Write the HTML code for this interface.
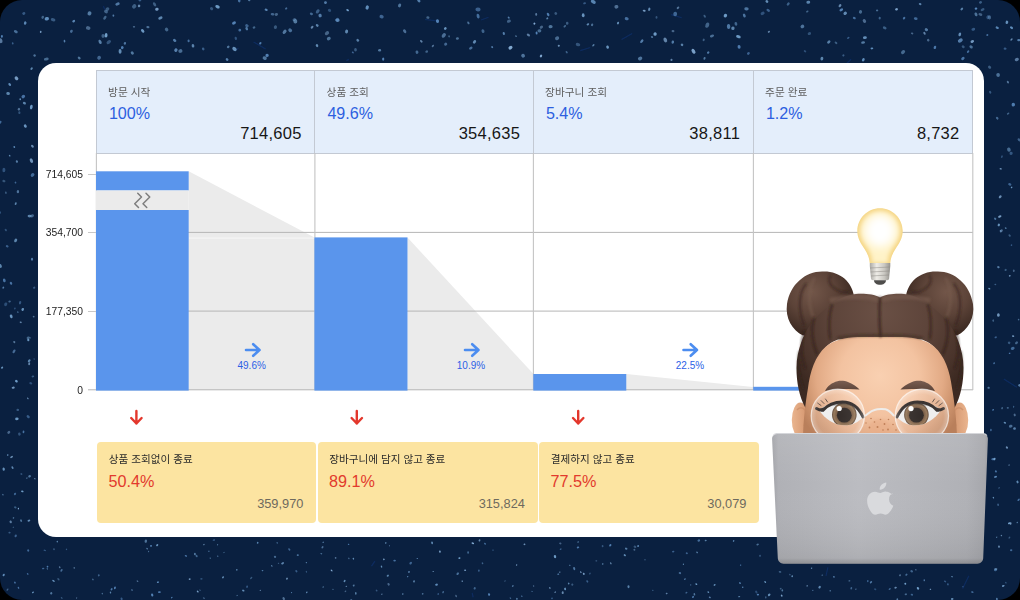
<!DOCTYPE html>
<html><head><meta charset="utf-8"><title>Funnel</title>
<style>
html,body{margin:0;padding:0;background:#000;}
body{width:1020px;height:600px;overflow:hidden;position:relative;font-family:"Liberation Sans",sans-serif;}
#bg{position:absolute;left:0;top:0;width:1020px;height:600px;background:#0a2040;border-radius:22px;overflow:hidden;}
#card{position:absolute;left:38.3px;top:63px;width:945.4px;height:473.6px;background:#fff;border-radius:18px;}
.hc{position:absolute;top:70px;height:84px;background:#e4eefb;border:1px solid #c3c9d3;border-right:none;box-sizing:border-box;}
.hc.last{border-right:1px solid #c3c9d3;}
.pct{position:absolute;left:12px;top:31.5px;font-size:16.1px;color:#2d5fe0;line-height:20px;}
.num{position:absolute;right:12.8px;top:52px;font-size:16.5px;color:#161616;line-height:20px;letter-spacing:0.25px;}
.yl{position:absolute;right:937px;width:60px;text-align:right;font-size:10.3px;line-height:12px;margin-top:0.8px;color:#1c1c1c;}
.yb{position:absolute;top:442px;height:81px;background:#fce4a1;border-radius:4px;}
.rp{position:absolute;left:11.6px;top:28.8px;font-size:16.2px;line-height:20px;color:#e23a2d;}
.gn{position:absolute;right:12.6px;top:54px;font-size:12.8px;line-height:16px;color:#6e6a5e;}
.cv{position:absolute;font-size:10px;line-height:12px;color:#2c5fe6;width:60px;text-align:center;}
svg{position:absolute;left:0;top:0;}
#kotext text{font-family:"Liberation Sans","Noto Sans CJK KR",sans-serif;}
</style></head><body>
<div id="bg">
<svg width="1020" height="600" viewBox="0 0 1020 600"><defs><filter id="fStar" x="-5%" y="-5%" width="110%" height="110%"><feGaussianBlur stdDeviation="0.45"/></filter></defs><g stroke="#12357a" stroke-width="1.2" opacity="0.55" filter="url(#fStar)"><line x1="632.2" y1="33.6" x2="621.6" y2="39.6"/><line x1="238.4" y1="47.9" x2="236.5" y2="49.9"/><line x1="437.0" y1="20.8" x2="425.0" y2="19.5"/><line x1="851.0" y1="59.3" x2="844.4" y2="65.7"/><line x1="826.0" y1="575.9" x2="827.9" y2="567.4"/><line x1="374.9" y1="561.1" x2="371.5" y2="566.1"/><line x1="997.8" y1="27.5" x2="998.8" y2="27.9"/><line x1="103.4" y1="6.0" x2="104.7" y2="9.5"/><line x1="1003.8" y1="378.9" x2="1016.8" y2="387.2"/><line x1="481.1" y1="20.0" x2="488.5" y2="17.3"/><line x1="472.2" y1="592.9" x2="473.1" y2="597.3"/><line x1="671.2" y1="14.6" x2="681.7" y2="17.8"/><line x1="580.3" y1="50.6" x2="590.3" y2="47.5"/><line x1="968.9" y1="575.7" x2="962.7" y2="588.5"/><line x1="253.6" y1="42.1" x2="265.6" y2="49.1"/><line x1="348.9" y1="59.4" x2="346.4" y2="60.6"/></g><g filter="url(#fStar)"><ellipse cx="707.3" cy="25.1" rx="2.76" ry="1.89" fill="#7fb0dc" fill-opacity="0.48" transform="rotate(111 707.3 25.1)"/><ellipse cx="848.3" cy="37.9" rx="1.35" ry="0.93" fill="#5d8ec4" fill-opacity="0.56" transform="rotate(140 848.3 37.9)"/><ellipse cx="283.7" cy="598.6" rx="1.54" ry="1.10" fill="#94bde6" fill-opacity="0.51" transform="rotate(57 283.7 598.6)"/><ellipse cx="30.3" cy="337.9" rx="0.89" ry="0.70" fill="#7fb0dc" fill-opacity="0.41" transform="rotate(12 30.3 337.9)"/><ellipse cx="217.8" cy="556.2" rx="0.72" ry="0.59" fill="#76a4d0" fill-opacity="0.68" transform="rotate(76 217.8 556.2)"/><ellipse cx="103.1" cy="35.9" rx="1.97" ry="1.65" fill="#76a4d0" fill-opacity="0.50" transform="rotate(81 103.1 35.9)"/><ellipse cx="402.8" cy="594.0" rx="0.75" ry="0.57" fill="#7fb0dc" fill-opacity="0.90" transform="rotate(107 402.8 594.0)"/><ellipse cx="102.3" cy="593.6" rx="0.77" ry="0.67" fill="#7fb0dc" fill-opacity="0.55" transform="rotate(59 102.3 593.6)"/><ellipse cx="649.3" cy="9.3" rx="1.73" ry="1.11" fill="#76a4d0" fill-opacity="0.82" transform="rotate(106 649.3 9.3)"/><ellipse cx="157.2" cy="545.1" rx="1.25" ry="0.92" fill="#76a4d0" fill-opacity="0.87" transform="rotate(133 157.2 545.1)"/><ellipse cx="492.2" cy="47.1" rx="1.07" ry="0.91" fill="#6a9aca" fill-opacity="0.77" transform="rotate(46 492.2 47.1)"/><ellipse cx="16.9" cy="161.5" rx="1.36" ry="1.06" fill="#76a4d0" fill-opacity="0.69" transform="rotate(66 16.9 161.5)"/><ellipse cx="34.2" cy="359.0" rx="0.83" ry="0.67" fill="#6a9aca" fill-opacity="0.44" transform="rotate(25 34.2 359.0)"/><ellipse cx="698.8" cy="540.5" rx="1.37" ry="1.13" fill="#5d8ec4" fill-opacity="0.69" transform="rotate(155 698.8 540.5)"/><ellipse cx="12.7" cy="43.3" rx="1.13" ry="0.88" fill="#5d8ec4" fill-opacity="0.57" transform="rotate(75 12.7 43.3)"/><ellipse cx="89.5" cy="13.4" rx="2.14" ry="1.94" fill="#7fb0dc" fill-opacity="0.64" transform="rotate(119 89.5 13.4)"/><ellipse cx="224.0" cy="552.5" rx="0.78" ry="0.62" fill="#7fb0dc" fill-opacity="0.42" transform="rotate(161 224.0 552.5)"/><ellipse cx="855.9" cy="589.2" rx="0.88" ry="0.65" fill="#94bde6" fill-opacity="0.42" transform="rotate(157 855.9 589.2)"/><ellipse cx="807.3" cy="11.5" rx="1.34" ry="0.88" fill="#76a4d0" fill-opacity="0.52" transform="rotate(149 807.3 11.5)"/><ellipse cx="812.8" cy="590.4" rx="0.67" ry="0.57" fill="#7fb0dc" fill-opacity="0.58" transform="rotate(115 812.8 590.4)"/><ellipse cx="11.0" cy="283.3" rx="1.52" ry="1.17" fill="#5d8ec4" fill-opacity="0.75" transform="rotate(62 11.0 283.3)"/><ellipse cx="510.4" cy="598.1" rx="0.87" ry="0.62" fill="#6a9aca" fill-opacity="0.61" transform="rotate(40 510.4 598.1)"/><ellipse cx="638.1" cy="546.0" rx="1.03" ry="0.83" fill="#6a9aca" fill-opacity="0.87" transform="rotate(143 638.1 546.0)"/><ellipse cx="333.0" cy="589.4" rx="0.83" ry="0.61" fill="#76a4d0" fill-opacity="0.46" transform="rotate(166 333.0 589.4)"/><ellipse cx="918.0" cy="588.3" rx="1.42" ry="1.13" fill="#7fb0dc" fill-opacity="0.85" transform="rotate(58 918.0 588.3)"/><ellipse cx="355.5" cy="49.7" rx="1.73" ry="1.37" fill="#7fb0dc" fill-opacity="0.41" transform="rotate(88 355.5 49.7)"/><ellipse cx="437.5" cy="21.1" rx="1.96" ry="1.55" fill="#5d8ec4" fill-opacity="0.90" transform="rotate(85 437.5 21.1)"/><ellipse cx="968.1" cy="51.6" rx="1.44" ry="1.00" fill="#5d8ec4" fill-opacity="0.72" transform="rotate(131 968.1 51.6)"/><ellipse cx="524.5" cy="544.3" rx="0.97" ry="0.77" fill="#94bde6" fill-opacity="0.70" transform="rotate(157 524.5 544.3)"/><ellipse cx="867.8" cy="581.1" rx="1.10" ry="0.73" fill="#5d8ec4" fill-opacity="0.65" transform="rotate(96 867.8 581.1)"/><ellipse cx="44.8" cy="550.4" rx="1.30" ry="0.75" fill="#5d8ec4" fill-opacity="0.48" transform="rotate(17 44.8 550.4)"/><ellipse cx="468.1" cy="552.5" rx="1.29" ry="0.92" fill="#6a9aca" fill-opacity="0.57" transform="rotate(89 468.1 552.5)"/><ellipse cx="427.9" cy="17.6" rx="1.61" ry="1.28" fill="#7fb0dc" fill-opacity="0.48" transform="rotate(6 427.9 17.6)"/><ellipse cx="321.3" cy="553.7" rx="1.01" ry="0.73" fill="#7fb0dc" fill-opacity="0.52" transform="rotate(24 321.3 553.7)"/><ellipse cx="264.7" cy="58.2" rx="2.13" ry="1.76" fill="#7fb0dc" fill-opacity="0.60" transform="rotate(23 264.7 58.2)"/><ellipse cx="1018.6" cy="499.8" rx="1.41" ry="0.91" fill="#5d8ec4" fill-opacity="0.71" transform="rotate(137 1018.6 499.8)"/><ellipse cx="79.2" cy="58.0" rx="1.60" ry="1.17" fill="#7fb0dc" fill-opacity="0.59" transform="rotate(38 79.2 58.0)"/><ellipse cx="15.7" cy="535.9" rx="1.44" ry="1.11" fill="#5d8ec4" fill-opacity="0.60" transform="rotate(113 15.7 535.9)"/><ellipse cx="905.8" cy="594.3" rx="1.16" ry="0.93" fill="#76a4d0" fill-opacity="0.55" transform="rotate(173 905.8 594.3)"/><ellipse cx="1019.9" cy="385.4" rx="1.63" ry="1.28" fill="#76a4d0" fill-opacity="0.71" transform="rotate(4 1019.9 385.4)"/><ellipse cx="383.2" cy="59.1" rx="1.63" ry="1.10" fill="#5d8ec4" fill-opacity="0.88" transform="rotate(91 383.2 59.1)"/><ellipse cx="863.3" cy="59.8" rx="1.77" ry="1.28" fill="#6a9aca" fill-opacity="0.88" transform="rotate(120 863.3 59.8)"/><ellipse cx="59.7" cy="567.2" rx="1.03" ry="0.78" fill="#94bde6" fill-opacity="0.54" transform="rotate(66 59.7 567.2)"/><ellipse cx="14.3" cy="147.0" rx="1.00" ry="0.89" fill="#6a9aca" fill-opacity="0.85" transform="rotate(70 14.3 147.0)"/><ellipse cx="51.2" cy="593.3" rx="1.19" ry="1.14" fill="#76a4d0" fill-opacity="0.64" transform="rotate(77 51.2 593.3)"/><ellipse cx="46.3" cy="59.1" rx="2.42" ry="1.44" fill="#7fb0dc" fill-opacity="0.52" transform="rotate(173 46.3 59.1)"/><ellipse cx="9.7" cy="155.7" rx="0.94" ry="0.75" fill="#76a4d0" fill-opacity="0.78" transform="rotate(50 9.7 155.7)"/><ellipse cx="666.7" cy="593.5" rx="0.93" ry="0.73" fill="#94bde6" fill-opacity="0.61" transform="rotate(166 666.7 593.5)"/><ellipse cx="840.0" cy="5.6" rx="1.79" ry="1.22" fill="#94bde6" fill-opacity="0.65" transform="rotate(125 840.0 5.6)"/><ellipse cx="22.7" cy="309.4" rx="1.50" ry="1.24" fill="#7fb0dc" fill-opacity="0.80" transform="rotate(117 22.7 309.4)"/><ellipse cx="320.1" cy="15.6" rx="1.78" ry="1.64" fill="#6a9aca" fill-opacity="0.76" transform="rotate(76 320.1 15.6)"/><ellipse cx="344.6" cy="581.0" rx="1.18" ry="0.89" fill="#7fb0dc" fill-opacity="0.75" transform="rotate(130 344.6 581.0)"/><ellipse cx="906.4" cy="574.7" rx="1.18" ry="0.93" fill="#6a9aca" fill-opacity="0.61" transform="rotate(144 906.4 574.7)"/><ellipse cx="768.2" cy="10.3" rx="1.97" ry="1.28" fill="#5d8ec4" fill-opacity="0.58" transform="rotate(36 768.2 10.3)"/><ellipse cx="558.3" cy="574.2" rx="0.97" ry="0.68" fill="#6a9aca" fill-opacity="0.80" transform="rotate(171 558.3 574.2)"/><ellipse cx="995.5" cy="476.8" rx="1.55" ry="0.93" fill="#6a9aca" fill-opacity="0.85" transform="rotate(166 995.5 476.8)"/><ellipse cx="19.4" cy="112.7" rx="1.40" ry="1.07" fill="#6a9aca" fill-opacity="0.42" transform="rotate(79 19.4 112.7)"/><ellipse cx="317.0" cy="45.6" rx="1.53" ry="1.22" fill="#7fb0dc" fill-opacity="0.74" transform="rotate(65 317.0 45.6)"/><ellipse cx="733.6" cy="540.9" rx="0.87" ry="0.70" fill="#6a9aca" fill-opacity="0.88" transform="rotate(135 733.6 540.9)"/><ellipse cx="566.7" cy="52.2" rx="1.34" ry="0.92" fill="#6a9aca" fill-opacity="0.54" transform="rotate(56 566.7 52.2)"/><ellipse cx="843.4" cy="55.4" rx="1.17" ry="1.04" fill="#6a9aca" fill-opacity="0.49" transform="rotate(127 843.4 55.4)"/><ellipse cx="33.0" cy="592.4" rx="1.07" ry="0.71" fill="#76a4d0" fill-opacity="0.86" transform="rotate(148 33.0 592.4)"/><ellipse cx="15.7" cy="240.4" rx="1.98" ry="1.40" fill="#7fb0dc" fill-opacity="0.70" transform="rotate(119 15.7 240.4)"/><ellipse cx="952.2" cy="599.0" rx="1.34" ry="0.90" fill="#7fb0dc" fill-opacity="0.73" transform="rotate(5 952.2 599.0)"/><ellipse cx="557.1" cy="38.2" rx="2.09" ry="1.85" fill="#76a4d0" fill-opacity="0.57" transform="rotate(161 557.1 38.2)"/><ellipse cx="558.8" cy="45.8" rx="1.08" ry="1.02" fill="#94bde6" fill-opacity="0.73" transform="rotate(169 558.8 45.8)"/><ellipse cx="33.7" cy="316.7" rx="1.01" ry="0.74" fill="#94bde6" fill-opacity="0.52" transform="rotate(24 33.7 316.7)"/><ellipse cx="472.8" cy="543.3" rx="1.38" ry="0.83" fill="#94bde6" fill-opacity="0.87" transform="rotate(21 472.8 543.3)"/><ellipse cx="404.7" cy="31.2" rx="2.07" ry="1.41" fill="#76a4d0" fill-opacity="0.60" transform="rotate(55 404.7 31.2)"/><ellipse cx="897.3" cy="599.6" rx="1.33" ry="0.86" fill="#76a4d0" fill-opacity="0.68" transform="rotate(98 897.3 599.6)"/><ellipse cx="578.1" cy="542.0" rx="0.87" ry="0.53" fill="#7fb0dc" fill-opacity="0.88" transform="rotate(97 578.1 542.0)"/><ellipse cx="24.4" cy="103.2" rx="1.61" ry="1.23" fill="#76a4d0" fill-opacity="0.75" transform="rotate(25 24.4 103.2)"/><ellipse cx="46.8" cy="18.7" rx="2.20" ry="1.74" fill="#6a9aca" fill-opacity="0.89" transform="rotate(168 46.8 18.7)"/><ellipse cx="16.4" cy="381.2" rx="1.54" ry="1.14" fill="#7fb0dc" fill-opacity="0.87" transform="rotate(43 16.4 381.2)"/><ellipse cx="834.0" cy="576.8" rx="0.87" ry="0.74" fill="#6a9aca" fill-opacity="0.88" transform="rotate(60 834.0 576.8)"/><ellipse cx="996.7" cy="537.3" rx="0.80" ry="0.58" fill="#7fb0dc" fill-opacity="0.63" transform="rotate(120 996.7 537.3)"/><ellipse cx="541.4" cy="27.2" rx="1.81" ry="1.34" fill="#94bde6" fill-opacity="0.44" transform="rotate(145 541.4 27.2)"/><ellipse cx="1008.1" cy="113.7" rx="1.40" ry="0.85" fill="#7fb0dc" fill-opacity="0.48" transform="rotate(142 1008.1 113.7)"/><ellipse cx="634.4" cy="549.8" rx="0.99" ry="0.97" fill="#94bde6" fill-opacity="0.43" transform="rotate(11 634.4 549.8)"/><ellipse cx="32.6" cy="174.9" rx="2.06" ry="1.68" fill="#5d8ec4" fill-opacity="0.67" transform="rotate(134 32.6 174.9)"/><ellipse cx="508.9" cy="21.2" rx="2.07" ry="1.48" fill="#76a4d0" fill-opacity="0.49" transform="rotate(157 508.9 21.2)"/><ellipse cx="31.6" cy="68.6" rx="1.41" ry="1.03" fill="#7fb0dc" fill-opacity="0.71" transform="rotate(130 31.6 68.6)"/><ellipse cx="317.2" cy="25.4" rx="1.63" ry="1.18" fill="#7fb0dc" fill-opacity="0.69" transform="rotate(48 317.2 25.4)"/><ellipse cx="532.1" cy="591.4" rx="0.66" ry="0.51" fill="#6a9aca" fill-opacity="0.68" transform="rotate(16 532.1 591.4)"/><ellipse cx="432.9" cy="45.9" rx="1.38" ry="0.96" fill="#94bde6" fill-opacity="0.51" transform="rotate(132 432.9 45.9)"/><ellipse cx="426.7" cy="51.6" rx="1.36" ry="1.21" fill="#76a4d0" fill-opacity="0.51" transform="rotate(166 426.7 51.6)"/><ellipse cx="456.1" cy="596.0" rx="1.29" ry="0.80" fill="#94bde6" fill-opacity="0.44" transform="rotate(69 456.1 596.0)"/><ellipse cx="18.9" cy="109.2" rx="1.37" ry="1.18" fill="#94bde6" fill-opacity="0.53" transform="rotate(129 18.9 109.2)"/><ellipse cx="121.6" cy="598.8" rx="1.26" ry="1.05" fill="#5d8ec4" fill-opacity="0.53" transform="rotate(69 121.6 598.8)"/><ellipse cx="11.6" cy="457.0" rx="1.51" ry="0.94" fill="#94bde6" fill-opacity="0.68" transform="rotate(154 11.6 457.0)"/><ellipse cx="679.9" cy="573.1" rx="1.24" ry="1.04" fill="#6a9aca" fill-opacity="0.61" transform="rotate(16 679.9 573.1)"/><ellipse cx="757.6" cy="544.5" rx="1.34" ry="0.93" fill="#7fb0dc" fill-opacity="0.55" transform="rotate(154 757.6 544.5)"/><ellipse cx="73.7" cy="21.2" rx="1.53" ry="1.12" fill="#6a9aca" fill-opacity="0.84" transform="rotate(147 73.7 21.2)"/><ellipse cx="915.7" cy="18.6" rx="1.91" ry="1.37" fill="#5d8ec4" fill-opacity="0.67" transform="rotate(9 915.7 18.6)"/><ellipse cx="389.5" cy="545.8" rx="0.67" ry="0.56" fill="#7fb0dc" fill-opacity="0.58" transform="rotate(56 389.5 545.8)"/><ellipse cx="239.2" cy="0.6" rx="1.84" ry="1.31" fill="#5d8ec4" fill-opacity="0.73" transform="rotate(89 239.2 0.6)"/><ellipse cx="106.0" cy="11.6" rx="2.03" ry="1.61" fill="#76a4d0" fill-opacity="0.50" transform="rotate(28 106.0 11.6)"/><ellipse cx="64.5" cy="41.2" rx="1.37" ry="0.85" fill="#6a9aca" fill-opacity="0.79" transform="rotate(81 64.5 41.2)"/><ellipse cx="132.0" cy="590.0" rx="1.02" ry="0.92" fill="#76a4d0" fill-opacity="0.48" transform="rotate(48 132.0 590.0)"/><ellipse cx="14.0" cy="351.3" rx="2.05" ry="1.20" fill="#6a9aca" fill-opacity="0.61" transform="rotate(124 14.0 351.3)"/><ellipse cx="1017.3" cy="522.5" rx="0.85" ry="0.67" fill="#7fb0dc" fill-opacity="0.60" transform="rotate(144 1017.3 522.5)"/><ellipse cx="174.7" cy="40.4" rx="1.90" ry="1.33" fill="#6a9aca" fill-opacity="0.76" transform="rotate(40 174.7 40.4)"/><ellipse cx="780.7" cy="588.6" rx="1.02" ry="0.73" fill="#76a4d0" fill-opacity="0.47" transform="rotate(144 780.7 588.6)"/><ellipse cx="154.6" cy="4.3" rx="2.29" ry="1.39" fill="#76a4d0" fill-opacity="0.47" transform="rotate(61 154.6 4.3)"/><ellipse cx="1011.5" cy="245.1" rx="0.97" ry="0.77" fill="#5d8ec4" fill-opacity="0.51" transform="rotate(100 1011.5 245.1)"/><ellipse cx="282.6" cy="563.3" rx="1.56" ry="1.00" fill="#76a4d0" fill-opacity="0.76" transform="rotate(150 282.6 563.3)"/><ellipse cx="276.4" cy="14.4" rx="1.65" ry="1.40" fill="#94bde6" fill-opacity="0.43" transform="rotate(160 276.4 14.4)"/><ellipse cx="11.2" cy="316.4" rx="1.88" ry="1.37" fill="#7fb0dc" fill-opacity="0.80" transform="rotate(72 11.2 316.4)"/><ellipse cx="9.7" cy="84.5" rx="1.62" ry="1.13" fill="#6a9aca" fill-opacity="0.90" transform="rotate(50 9.7 84.5)"/><ellipse cx="9.6" cy="301.5" rx="1.27" ry="1.01" fill="#76a4d0" fill-opacity="0.50" transform="rotate(171 9.6 301.5)"/><ellipse cx="110.5" cy="592.5" rx="1.13" ry="0.68" fill="#76a4d0" fill-opacity="0.75" transform="rotate(73 110.5 592.5)"/><ellipse cx="828.8" cy="42.0" rx="1.86" ry="1.36" fill="#7fb0dc" fill-opacity="0.66" transform="rotate(140 828.8 42.0)"/><ellipse cx="32.9" cy="376.4" rx="1.32" ry="0.98" fill="#6a9aca" fill-opacity="0.48" transform="rotate(168 32.9 376.4)"/><ellipse cx="53.5" cy="580.9" rx="1.39" ry="0.83" fill="#76a4d0" fill-opacity="0.86" transform="rotate(34 53.5 580.9)"/><ellipse cx="521.8" cy="596.2" rx="0.80" ry="0.57" fill="#6a9aca" fill-opacity="0.80" transform="rotate(45 521.8 596.2)"/><ellipse cx="211.6" cy="8.6" rx="1.74" ry="1.47" fill="#6a9aca" fill-opacity="0.45" transform="rotate(43 211.6 8.6)"/><ellipse cx="560.3" cy="543.4" rx="1.20" ry="0.96" fill="#94bde6" fill-opacity="0.42" transform="rotate(18 560.3 543.4)"/><ellipse cx="626.7" cy="18.7" rx="2.03" ry="1.53" fill="#5d8ec4" fill-opacity="0.72" transform="rotate(16 626.7 18.7)"/><ellipse cx="15.7" cy="203.7" rx="1.42" ry="0.95" fill="#76a4d0" fill-opacity="0.75" transform="rotate(109 15.7 203.7)"/><ellipse cx="592.1" cy="24.8" rx="1.42" ry="1.09" fill="#7fb0dc" fill-opacity="0.55" transform="rotate(112 592.1 24.8)"/><ellipse cx="1014.7" cy="415.0" rx="1.43" ry="1.05" fill="#94bde6" fill-opacity="0.47" transform="rotate(73 1014.7 415.0)"/><ellipse cx="516.6" cy="565.0" rx="1.02" ry="0.66" fill="#94bde6" fill-opacity="0.54" transform="rotate(104 516.6 565.0)"/><ellipse cx="971.1" cy="46.9" rx="1.81" ry="1.46" fill="#76a4d0" fill-opacity="0.61" transform="rotate(36 971.1 46.9)"/><ellipse cx="457.4" cy="38.5" rx="1.58" ry="1.24" fill="#7fb0dc" fill-opacity="0.55" transform="rotate(172 457.4 38.5)"/><ellipse cx="915.9" cy="569.8" rx="0.74" ry="0.53" fill="#94bde6" fill-opacity="0.63" transform="rotate(65 915.9 569.8)"/><ellipse cx="21.4" cy="474.0" rx="1.06" ry="0.86" fill="#6a9aca" fill-opacity="0.43" transform="rotate(20 21.4 474.0)"/><ellipse cx="3.7" cy="575.0" rx="1.32" ry="1.01" fill="#6a9aca" fill-opacity="0.88" transform="rotate(119 3.7 575.0)"/><ellipse cx="478.0" cy="9.5" rx="2.60" ry="1.91" fill="#5d8ec4" fill-opacity="0.58" transform="rotate(4 478.0 9.5)"/><ellipse cx="572.3" cy="584.6" rx="1.11" ry="1.07" fill="#76a4d0" fill-opacity="0.43" transform="rotate(102 572.3 584.6)"/><ellipse cx="132.3" cy="53.0" rx="1.68" ry="1.44" fill="#7fb0dc" fill-opacity="0.61" transform="rotate(44 132.3 53.0)"/><ellipse cx="1009.6" cy="353.3" rx="0.93" ry="0.70" fill="#5d8ec4" fill-opacity="0.80" transform="rotate(162 1009.6 353.3)"/><ellipse cx="157.9" cy="582.2" rx="1.05" ry="0.83" fill="#6a9aca" fill-opacity="0.88" transform="rotate(155 157.9 582.2)"/><ellipse cx="1013.1" cy="336.1" rx="1.19" ry="0.87" fill="#94bde6" fill-opacity="0.71" transform="rotate(17 1013.1 336.1)"/><ellipse cx="227.1" cy="59.5" rx="1.52" ry="1.19" fill="#6a9aca" fill-opacity="0.77" transform="rotate(41 227.1 59.5)"/><ellipse cx="251.2" cy="578.0" rx="1.33" ry="0.82" fill="#76a4d0" fill-opacity="0.43" transform="rotate(137 251.2 578.0)"/><ellipse cx="768.9" cy="31.8" rx="1.19" ry="0.90" fill="#94bde6" fill-opacity="0.61" transform="rotate(143 768.9 31.8)"/><ellipse cx="693.5" cy="51.3" rx="2.62" ry="1.69" fill="#94bde6" fill-opacity="0.81" transform="rotate(57 693.5 51.3)"/><ellipse cx="655.1" cy="34.0" rx="1.85" ry="1.65" fill="#7fb0dc" fill-opacity="0.86" transform="rotate(99 655.1 34.0)"/><ellipse cx="175.9" cy="50.1" rx="1.80" ry="1.61" fill="#6a9aca" fill-opacity="0.80" transform="rotate(122 175.9 50.1)"/><ellipse cx="32.0" cy="259.2" rx="1.44" ry="1.14" fill="#6a9aca" fill-opacity="0.74" transform="rotate(89 32.0 259.2)"/><ellipse cx="15.0" cy="493.9" rx="1.25" ry="1.05" fill="#5d8ec4" fill-opacity="0.63" transform="rotate(123 15.0 493.9)"/><ellipse cx="1000.2" cy="196.8" rx="1.66" ry="1.25" fill="#94bde6" fill-opacity="0.69" transform="rotate(131 1000.2 196.8)"/><ellipse cx="217.6" cy="544.8" rx="0.70" ry="0.56" fill="#7fb0dc" fill-opacity="0.59" transform="rotate(96 217.6 544.8)"/><ellipse cx="864.4" cy="21.0" rx="2.11" ry="1.57" fill="#94bde6" fill-opacity="0.48" transform="rotate(60 864.4 21.0)"/><ellipse cx="821.9" cy="58.6" rx="1.94" ry="1.44" fill="#7fb0dc" fill-opacity="0.70" transform="rotate(96 821.9 58.6)"/><ellipse cx="171.8" cy="597.6" rx="0.89" ry="0.62" fill="#5d8ec4" fill-opacity="0.80" transform="rotate(142 171.8 597.6)"/><ellipse cx="20.7" cy="322.3" rx="1.09" ry="0.81" fill="#94bde6" fill-opacity="0.64" transform="rotate(24 20.7 322.3)"/><ellipse cx="29.6" cy="476.2" rx="1.41" ry="1.14" fill="#76a4d0" fill-opacity="0.67" transform="rotate(148 29.6 476.2)"/><ellipse cx="673.2" cy="551.6" rx="1.22" ry="0.85" fill="#5d8ec4" fill-opacity="0.58" transform="rotate(169 673.2 551.6)"/><ellipse cx="236.8" cy="569.9" rx="0.88" ry="0.61" fill="#7fb0dc" fill-opacity="0.85" transform="rotate(13 236.8 569.9)"/><ellipse cx="952.1" cy="576.7" rx="0.80" ry="0.60" fill="#7fb0dc" fill-opacity="0.87" transform="rotate(25 952.1 576.7)"/><ellipse cx="145.8" cy="541.2" rx="1.69" ry="1.24" fill="#76a4d0" fill-opacity="0.62" transform="rotate(98 145.8 541.2)"/><ellipse cx="624.8" cy="555.2" rx="1.22" ry="0.93" fill="#7fb0dc" fill-opacity="0.75" transform="rotate(35 624.8 555.2)"/><ellipse cx="568.7" cy="583.5" rx="0.98" ry="0.77" fill="#76a4d0" fill-opacity="0.75" transform="rotate(60 568.7 583.5)"/><ellipse cx="995.5" cy="570.0" rx="1.54" ry="1.17" fill="#5d8ec4" fill-opacity="0.64" transform="rotate(4 995.5 570.0)"/><ellipse cx="1016.5" cy="342.8" rx="1.67" ry="1.19" fill="#7fb0dc" fill-opacity="0.48" transform="rotate(138 1016.5 342.8)"/><ellipse cx="306.8" cy="592.4" rx="0.88" ry="0.66" fill="#7fb0dc" fill-opacity="0.82" transform="rotate(109 306.8 592.4)"/><ellipse cx="0.7" cy="40.7" rx="2.47" ry="1.76" fill="#94bde6" fill-opacity="0.57" transform="rotate(73 0.7 40.7)"/><ellipse cx="246.7" cy="28.7" rx="1.75" ry="1.23" fill="#6a9aca" fill-opacity="0.73" transform="rotate(63 246.7 28.7)"/><ellipse cx="422.7" cy="593.9" rx="0.91" ry="0.79" fill="#76a4d0" fill-opacity="0.59" transform="rotate(178 422.7 593.9)"/><ellipse cx="237.2" cy="595.5" rx="0.92" ry="0.63" fill="#7fb0dc" fill-opacity="0.43" transform="rotate(170 237.2 595.5)"/><ellipse cx="53.1" cy="19.7" rx="2.35" ry="1.61" fill="#6a9aca" fill-opacity="0.48" transform="rotate(12 53.1 19.7)"/><ellipse cx="348.8" cy="558.4" rx="0.87" ry="0.68" fill="#76a4d0" fill-opacity="0.47" transform="rotate(35 348.8 558.4)"/><ellipse cx="278.5" cy="563.3" rx="0.69" ry="0.54" fill="#76a4d0" fill-opacity="0.55" transform="rotate(9 278.5 563.3)"/><ellipse cx="267.1" cy="55.3" rx="1.68" ry="1.64" fill="#5d8ec4" fill-opacity="0.87" transform="rotate(176 267.1 55.3)"/><ellipse cx="189.7" cy="579.1" rx="1.03" ry="0.86" fill="#94bde6" fill-opacity="0.70" transform="rotate(161 189.7 579.1)"/><ellipse cx="962.9" cy="586.7" rx="0.75" ry="0.51" fill="#76a4d0" fill-opacity="0.48" transform="rotate(9 962.9 586.7)"/><ellipse cx="980.4" cy="14.5" rx="1.97" ry="1.33" fill="#94bde6" fill-opacity="0.41" transform="rotate(11 980.4 14.5)"/><ellipse cx="15.5" cy="182.6" rx="1.01" ry="0.83" fill="#5d8ec4" fill-opacity="0.64" transform="rotate(66 15.5 182.6)"/><ellipse cx="3.3" cy="287.7" rx="1.14" ry="0.86" fill="#6a9aca" fill-opacity="0.74" transform="rotate(117 3.3 287.7)"/><ellipse cx="652.0" cy="37.0" rx="1.16" ry="1.01" fill="#7fb0dc" fill-opacity="0.54" transform="rotate(9 652.0 37.0)"/><ellipse cx="819.6" cy="587.2" rx="1.43" ry="1.10" fill="#76a4d0" fill-opacity="0.80" transform="rotate(128 819.6 587.2)"/><ellipse cx="728.6" cy="26.5" rx="2.50" ry="1.72" fill="#6a9aca" fill-opacity="0.72" transform="rotate(85 728.6 26.5)"/><ellipse cx="111.6" cy="589.3" rx="1.25" ry="0.89" fill="#5d8ec4" fill-opacity="0.78" transform="rotate(125 111.6 589.3)"/><ellipse cx="766.9" cy="1.5" rx="1.54" ry="1.29" fill="#7fb0dc" fill-opacity="0.76" transform="rotate(40 766.9 1.5)"/><ellipse cx="23.3" cy="96.6" rx="1.91" ry="1.61" fill="#5d8ec4" fill-opacity="0.75" transform="rotate(140 23.3 96.6)"/><ellipse cx="704.7" cy="16.2" rx="1.65" ry="1.01" fill="#7fb0dc" fill-opacity="0.43" transform="rotate(59 704.7 16.2)"/><ellipse cx="296.4" cy="571.2" rx="1.32" ry="0.93" fill="#5d8ec4" fill-opacity="0.54" transform="rotate(60 296.4 571.2)"/><ellipse cx="1011.5" cy="39.5" rx="1.36" ry="0.83" fill="#94bde6" fill-opacity="0.66" transform="rotate(136 1011.5 39.5)"/><ellipse cx="71.4" cy="31.3" rx="1.63" ry="1.36" fill="#6a9aca" fill-opacity="0.61" transform="rotate(115 71.4 31.3)"/><ellipse cx="934.9" cy="47.4" rx="1.68" ry="1.23" fill="#5d8ec4" fill-opacity="0.80" transform="rotate(113 934.9 47.4)"/><ellipse cx="552.0" cy="598.4" rx="0.96" ry="0.85" fill="#5d8ec4" fill-opacity="0.48" transform="rotate(10 552.0 598.4)"/><ellipse cx="596.3" cy="560.9" rx="0.99" ry="0.59" fill="#7fb0dc" fill-opacity="0.43" transform="rotate(10 596.3 560.9)"/><ellipse cx="257.7" cy="542.8" rx="0.98" ry="0.85" fill="#6a9aca" fill-opacity="0.83" transform="rotate(111 257.7 542.8)"/><ellipse cx="417.0" cy="52.2" rx="1.72" ry="1.41" fill="#6a9aca" fill-opacity="0.59" transform="rotate(72 417.0 52.2)"/><ellipse cx="756.3" cy="592.0" rx="1.48" ry="1.02" fill="#5d8ec4" fill-opacity="0.41" transform="rotate(60 756.3 592.0)"/><ellipse cx="34.6" cy="55.5" rx="1.35" ry="1.16" fill="#76a4d0" fill-opacity="0.62" transform="rotate(37 34.6 55.5)"/><ellipse cx="995.9" cy="471.4" rx="1.18" ry="0.89" fill="#5d8ec4" fill-opacity="0.76" transform="rotate(53 995.9 471.4)"/><ellipse cx="549.9" cy="588.0" rx="0.99" ry="0.60" fill="#94bde6" fill-opacity="0.78" transform="rotate(75 549.9 588.0)"/><ellipse cx="665.3" cy="40.0" rx="2.55" ry="1.70" fill="#94bde6" fill-opacity="0.64" transform="rotate(66 665.3 40.0)"/><ellipse cx="555.2" cy="592.2" rx="0.84" ry="0.55" fill="#94bde6" fill-opacity="0.88" transform="rotate(131 555.2 592.2)"/><ellipse cx="924.3" cy="580.3" rx="1.05" ry="0.77" fill="#6a9aca" fill-opacity="0.68" transform="rotate(83 924.3 580.3)"/><ellipse cx="580.8" cy="572.1" rx="1.03" ry="0.63" fill="#94bde6" fill-opacity="0.75" transform="rotate(54 580.8 572.1)"/><ellipse cx="548.1" cy="14.5" rx="1.74" ry="1.12" fill="#5d8ec4" fill-opacity="0.84" transform="rotate(56 548.1 14.5)"/><ellipse cx="120.1" cy="51.4" rx="2.30" ry="1.49" fill="#7fb0dc" fill-opacity="0.75" transform="rotate(88 120.1 51.4)"/><ellipse cx="28.2" cy="550.5" rx="1.24" ry="0.99" fill="#5d8ec4" fill-opacity="0.67" transform="rotate(65 28.2 550.5)"/><ellipse cx="732.9" cy="28.3" rx="1.79" ry="1.68" fill="#7fb0dc" fill-opacity="0.69" transform="rotate(98 732.9 28.3)"/><ellipse cx="564.8" cy="26.3" rx="1.44" ry="0.89" fill="#7fb0dc" fill-opacity="0.51" transform="rotate(140 564.8 26.3)"/><ellipse cx="266.2" cy="9.7" rx="1.63" ry="1.11" fill="#6a9aca" fill-opacity="0.82" transform="rotate(20 266.2 9.7)"/><ellipse cx="1017.5" cy="482.0" rx="1.39" ry="1.04" fill="#7fb0dc" fill-opacity="0.72" transform="rotate(70 1017.5 482.0)"/><ellipse cx="1011.2" cy="550.2" rx="1.19" ry="0.94" fill="#5d8ec4" fill-opacity="0.67" transform="rotate(175 1011.2 550.2)"/><ellipse cx="567.2" cy="23.3" rx="1.48" ry="1.30" fill="#76a4d0" fill-opacity="0.46" transform="rotate(96 567.2 23.3)"/><ellipse cx="1009.4" cy="537.6" rx="1.21" ry="0.77" fill="#76a4d0" fill-opacity="0.43" transform="rotate(128 1009.4 537.6)"/><ellipse cx="644.2" cy="10.7" rx="1.54" ry="1.01" fill="#94bde6" fill-opacity="0.78" transform="rotate(13 644.2 10.7)"/><ellipse cx="533.6" cy="585.9" rx="0.74" ry="0.66" fill="#94bde6" fill-opacity="0.48" transform="rotate(40 533.6 585.9)"/><ellipse cx="34.9" cy="478.7" rx="0.82" ry="0.58" fill="#94bde6" fill-opacity="0.64" transform="rotate(29 34.9 478.7)"/><ellipse cx="117.5" cy="4.0" rx="2.31" ry="1.46" fill="#6a9aca" fill-opacity="0.73" transform="rotate(158 117.5 4.0)"/><ellipse cx="505.0" cy="581.0" rx="0.81" ry="0.72" fill="#76a4d0" fill-opacity="0.43" transform="rotate(121 505.0 581.0)"/><ellipse cx="7.2" cy="246.2" rx="1.43" ry="1.11" fill="#5d8ec4" fill-opacity="0.58" transform="rotate(21 7.2 246.2)"/><ellipse cx="739.1" cy="46.9" rx="1.93" ry="1.52" fill="#5d8ec4" fill-opacity="0.82" transform="rotate(84 739.1 46.9)"/><ellipse cx="357.8" cy="40.3" rx="1.56" ry="1.25" fill="#76a4d0" fill-opacity="0.72" transform="rotate(43 357.8 40.3)"/><ellipse cx="88.2" cy="28.0" rx="2.32" ry="1.87" fill="#94bde6" fill-opacity="0.46" transform="rotate(7 88.2 28.0)"/><ellipse cx="445.7" cy="44.2" rx="1.58" ry="1.48" fill="#6a9aca" fill-opacity="0.60" transform="rotate(142 445.7 44.2)"/><ellipse cx="9.5" cy="532.6" rx="1.15" ry="0.90" fill="#6a9aca" fill-opacity="0.47" transform="rotate(169 9.5 532.6)"/><ellipse cx="1016.8" cy="59.5" rx="2.14" ry="1.59" fill="#94bde6" fill-opacity="0.57" transform="rotate(156 1016.8 59.5)"/><ellipse cx="114.9" cy="587.9" rx="1.36" ry="0.88" fill="#5d8ec4" fill-opacity="0.88" transform="rotate(109 114.9 587.9)"/><ellipse cx="879.7" cy="18.1" rx="1.42" ry="1.09" fill="#6a9aca" fill-opacity="0.53" transform="rotate(98 879.7 18.1)"/><ellipse cx="1.1" cy="0.6" rx="1.14" ry="0.84" fill="#7fb0dc" fill-opacity="0.72" transform="rotate(178 1.1 0.6)"/><ellipse cx="439.9" cy="551.6" rx="1.20" ry="0.98" fill="#94bde6" fill-opacity="0.74" transform="rotate(85 439.9 551.6)"/><ellipse cx="987.3" cy="35.0" rx="1.11" ry="0.95" fill="#5d8ec4" fill-opacity="0.74" transform="rotate(148 987.3 35.0)"/><ellipse cx="959.8" cy="34.4" rx="1.97" ry="1.31" fill="#76a4d0" fill-opacity="0.83" transform="rotate(106 959.8 34.4)"/><ellipse cx="690.7" cy="584.9" rx="0.97" ry="0.69" fill="#6a9aca" fill-opacity="0.41" transform="rotate(84 690.7 584.9)"/><ellipse cx="98.8" cy="575.3" rx="1.08" ry="0.95" fill="#6a9aca" fill-opacity="0.54" transform="rotate(76 98.8 575.3)"/><ellipse cx="871.9" cy="48.4" rx="1.38" ry="0.98" fill="#6a9aca" fill-opacity="0.88" transform="rotate(173 871.9 48.4)"/><ellipse cx="217.5" cy="6.8" rx="2.32" ry="1.56" fill="#7fb0dc" fill-opacity="0.85" transform="rotate(24 217.5 6.8)"/><ellipse cx="1000.7" cy="168.8" rx="1.17" ry="0.81" fill="#94bde6" fill-opacity="0.68" transform="rotate(14 1000.7 168.8)"/><ellipse cx="479.5" cy="540.4" rx="1.22" ry="0.87" fill="#94bde6" fill-opacity="0.64" transform="rotate(109 479.5 540.4)"/><ellipse cx="789.9" cy="574.6" rx="0.90" ry="0.74" fill="#6a9aca" fill-opacity="0.43" transform="rotate(33 789.9 574.6)"/><ellipse cx="994.1" cy="363.3" rx="1.06" ry="0.77" fill="#5d8ec4" fill-opacity="0.78" transform="rotate(110 994.1 363.3)"/><ellipse cx="999.0" cy="546.7" rx="1.18" ry="0.92" fill="#94bde6" fill-opacity="0.68" transform="rotate(84 999.0 546.7)"/><ellipse cx="30.8" cy="383.3" rx="1.53" ry="1.09" fill="#5d8ec4" fill-opacity="0.44" transform="rotate(22 30.8 383.3)"/><ellipse cx="385.8" cy="542.9" rx="0.85" ry="0.69" fill="#76a4d0" fill-opacity="0.78" transform="rotate(120 385.8 542.9)"/><ellipse cx="593.3" cy="1.8" rx="2.72" ry="1.78" fill="#6a9aca" fill-opacity="0.81" transform="rotate(29 593.3 1.8)"/><ellipse cx="147.9" cy="27.1" rx="1.60" ry="1.08" fill="#76a4d0" fill-opacity="0.61" transform="rotate(14 147.9 27.1)"/><ellipse cx="854.3" cy="18.1" rx="1.53" ry="1.12" fill="#5d8ec4" fill-opacity="0.70" transform="rotate(25 854.3 18.1)"/><ellipse cx="107.4" cy="9.1" rx="2.00" ry="1.73" fill="#76a4d0" fill-opacity="0.44" transform="rotate(142 107.4 9.1)"/><ellipse cx="335.6" cy="557.9" rx="0.87" ry="0.73" fill="#94bde6" fill-opacity="0.69" transform="rotate(14 335.6 557.9)"/><ellipse cx="836.0" cy="42.8" rx="1.57" ry="1.04" fill="#7fb0dc" fill-opacity="0.43" transform="rotate(41 836.0 42.8)"/><ellipse cx="297.8" cy="555.1" rx="1.08" ry="0.83" fill="#6a9aca" fill-opacity="0.69" transform="rotate(8 297.8 555.1)"/><ellipse cx="7.7" cy="455.0" rx="0.86" ry="0.76" fill="#7fb0dc" fill-opacity="0.77" transform="rotate(107 7.7 455.0)"/><ellipse cx="536.2" cy="14.4" rx="1.43" ry="1.00" fill="#94bde6" fill-opacity="0.57" transform="rotate(89 536.2 14.4)"/><ellipse cx="926.4" cy="29.7" rx="1.71" ry="1.49" fill="#76a4d0" fill-opacity="0.68" transform="rotate(30 926.4 29.7)"/><ellipse cx="792.2" cy="576.3" rx="0.99" ry="0.83" fill="#7fb0dc" fill-opacity="0.75" transform="rotate(106 792.2 576.3)"/><ellipse cx="34.2" cy="287.7" rx="1.14" ry="1.07" fill="#6a9aca" fill-opacity="0.46" transform="rotate(168 34.2 287.7)"/><ellipse cx="317.7" cy="11.4" rx="2.36" ry="1.60" fill="#6a9aca" fill-opacity="0.50" transform="rotate(127 317.7 11.4)"/><ellipse cx="1011.6" cy="187.4" rx="0.93" ry="0.72" fill="#7fb0dc" fill-opacity="0.82" transform="rotate(132 1011.6 187.4)"/><ellipse cx="671.5" cy="59.8" rx="1.13" ry="1.07" fill="#94bde6" fill-opacity="0.62" transform="rotate(99 671.5 59.8)"/><ellipse cx="990.9" cy="430.0" rx="1.33" ry="0.99" fill="#5d8ec4" fill-opacity="0.54" transform="rotate(92 990.9 430.0)"/><ellipse cx="262.5" cy="570.6" rx="0.89" ry="0.55" fill="#6a9aca" fill-opacity="0.75" transform="rotate(7 262.5 570.6)"/><ellipse cx="578.0" cy="44.6" rx="2.29" ry="1.70" fill="#6a9aca" fill-opacity="0.43" transform="rotate(8 578.0 44.6)"/><ellipse cx="443.8" cy="35.4" rx="2.60" ry="1.73" fill="#76a4d0" fill-opacity="0.60" transform="rotate(129 443.8 35.4)"/><ellipse cx="159.4" cy="592.2" rx="1.49" ry="0.90" fill="#5d8ec4" fill-opacity="0.81" transform="rotate(174 159.4 592.2)"/><ellipse cx="21.1" cy="520.6" rx="1.31" ry="0.94" fill="#7fb0dc" fill-opacity="0.57" transform="rotate(64 21.1 520.6)"/><ellipse cx="355.8" cy="593.4" rx="1.32" ry="0.84" fill="#7fb0dc" fill-opacity="0.64" transform="rotate(84 355.8 593.4)"/><ellipse cx="1009.8" cy="275.8" rx="1.00" ry="0.75" fill="#94bde6" fill-opacity="0.71" transform="rotate(155 1009.8 275.8)"/><ellipse cx="213.9" cy="540.1" rx="1.29" ry="0.92" fill="#5d8ec4" fill-opacity="0.43" transform="rotate(165 213.9 540.1)"/><ellipse cx="704.5" cy="58.4" rx="1.48" ry="1.01" fill="#7fb0dc" fill-opacity="0.61" transform="rotate(108 704.5 58.4)"/><ellipse cx="346.3" cy="586.4" rx="0.83" ry="0.57" fill="#94bde6" fill-opacity="0.55" transform="rotate(3 346.3 586.4)"/><ellipse cx="911.7" cy="571.2" rx="1.39" ry="1.09" fill="#6a9aca" fill-opacity="0.56" transform="rotate(24 911.7 571.2)"/><ellipse cx="1009.1" cy="465.1" rx="0.94" ry="0.71" fill="#94bde6" fill-opacity="0.47" transform="rotate(109 1009.1 465.1)"/><ellipse cx="1000.6" cy="230.9" rx="1.12" ry="0.74" fill="#5d8ec4" fill-opacity="0.55" transform="rotate(39 1000.6 230.9)"/><ellipse cx="995.7" cy="337.3" rx="1.19" ry="0.87" fill="#5d8ec4" fill-opacity="0.58" transform="rotate(162 995.7 337.3)"/><ellipse cx="593.4" cy="45.3" rx="1.45" ry="0.85" fill="#7fb0dc" fill-opacity="0.66" transform="rotate(129 593.4 45.3)"/><ellipse cx="4.3" cy="280.4" rx="1.88" ry="1.34" fill="#5d8ec4" fill-opacity="0.76" transform="rotate(75 4.3 280.4)"/><ellipse cx="208.9" cy="551.3" rx="0.69" ry="0.67" fill="#6a9aca" fill-opacity="0.64" transform="rotate(140 208.9 551.3)"/><ellipse cx="166.6" cy="29.5" rx="2.02" ry="1.64" fill="#76a4d0" fill-opacity="0.52" transform="rotate(53 166.6 29.5)"/><ellipse cx="18.4" cy="508.6" rx="0.90" ry="0.64" fill="#94bde6" fill-opacity="0.84" transform="rotate(99 18.4 508.6)"/><ellipse cx="104.9" cy="17.8" rx="2.18" ry="1.27" fill="#76a4d0" fill-opacity="0.52" transform="rotate(126 104.9 17.8)"/><ellipse cx="928.2" cy="40.2" rx="1.33" ry="1.27" fill="#94bde6" fill-opacity="0.44" transform="rotate(64 928.2 40.2)"/><ellipse cx="47.3" cy="568.8" rx="0.97" ry="0.60" fill="#76a4d0" fill-opacity="0.55" transform="rotate(65 47.3 568.8)"/><ellipse cx="808.3" cy="2.2" rx="1.94" ry="1.51" fill="#76a4d0" fill-opacity="0.75" transform="rotate(171 808.3 2.2)"/><ellipse cx="998.1" cy="74.9" rx="2.00" ry="1.85" fill="#7fb0dc" fill-opacity="0.57" transform="rotate(92 998.1 74.9)"/><ellipse cx="539.4" cy="30.9" rx="1.95" ry="1.56" fill="#7fb0dc" fill-opacity="0.52" transform="rotate(177 539.4 30.9)"/><ellipse cx="740.6" cy="565.1" rx="0.73" ry="0.57" fill="#5d8ec4" fill-opacity="0.80" transform="rotate(15 740.6 565.1)"/><ellipse cx="976.0" cy="8.6" rx="1.34" ry="1.08" fill="#5d8ec4" fill-opacity="0.90" transform="rotate(163 976.0 8.6)"/><ellipse cx="28.9" cy="520.6" rx="1.40" ry="0.95" fill="#76a4d0" fill-opacity="0.82" transform="rotate(164 28.9 520.6)"/><ellipse cx="562.7" cy="592.7" rx="1.35" ry="1.02" fill="#94bde6" fill-opacity="0.67" transform="rotate(100 562.7 592.7)"/><ellipse cx="470.8" cy="48.1" rx="1.84" ry="1.34" fill="#6a9aca" fill-opacity="0.63" transform="rotate(154 470.8 48.1)"/><ellipse cx="811.6" cy="568.2" rx="0.82" ry="0.64" fill="#76a4d0" fill-opacity="0.76" transform="rotate(122 811.6 568.2)"/><ellipse cx="122.3" cy="47.6" rx="1.51" ry="1.38" fill="#5d8ec4" fill-opacity="0.83" transform="rotate(110 122.3 47.6)"/><ellipse cx="555.8" cy="13.5" rx="1.44" ry="1.30" fill="#76a4d0" fill-opacity="0.43" transform="rotate(24 555.8 13.5)"/><ellipse cx="417.3" cy="558.5" rx="0.79" ry="0.55" fill="#6a9aca" fill-opacity="0.80" transform="rotate(5 417.3 558.5)"/><ellipse cx="156.9" cy="9.2" rx="1.79" ry="1.49" fill="#94bde6" fill-opacity="0.77" transform="rotate(164 156.9 9.2)"/><ellipse cx="26.9" cy="478.1" rx="0.86" ry="0.65" fill="#7fb0dc" fill-opacity="0.52" transform="rotate(105 26.9 478.1)"/><ellipse cx="851.3" cy="588.2" rx="1.27" ry="0.87" fill="#6a9aca" fill-opacity="0.56" transform="rotate(105 851.3 588.2)"/><ellipse cx="1009.6" cy="235.5" rx="1.30" ry="0.91" fill="#76a4d0" fill-opacity="0.46" transform="rotate(44 1009.6 235.5)"/><ellipse cx="805.0" cy="51.2" rx="1.34" ry="0.98" fill="#5d8ec4" fill-opacity="0.44" transform="rotate(35 805.0 51.2)"/><ellipse cx="781.7" cy="595.7" rx="1.13" ry="0.80" fill="#94bde6" fill-opacity="0.82" transform="rotate(65 781.7 595.7)"/><ellipse cx="989.3" cy="288.6" rx="1.12" ry="0.80" fill="#76a4d0" fill-opacity="0.84" transform="rotate(30 989.3 288.6)"/><ellipse cx="203.9" cy="544.6" rx="0.85" ry="0.66" fill="#94bde6" fill-opacity="0.58" transform="rotate(154 203.9 544.6)"/><ellipse cx="884.7" cy="27.9" rx="1.99" ry="1.40" fill="#6a9aca" fill-opacity="0.52" transform="rotate(29 884.7 27.9)"/><ellipse cx="443.1" cy="592.2" rx="1.19" ry="0.80" fill="#6a9aca" fill-opacity="0.59" transform="rotate(112 443.1 592.2)"/><ellipse cx="147.1" cy="548.6" rx="0.97" ry="0.71" fill="#7fb0dc" fill-opacity="0.58" transform="rotate(35 147.1 548.6)"/><ellipse cx="15.8" cy="31.6" rx="2.06" ry="1.42" fill="#6a9aca" fill-opacity="0.65" transform="rotate(32 15.8 31.6)"/><ellipse cx="20.2" cy="99.2" rx="0.98" ry="0.79" fill="#76a4d0" fill-opacity="0.88" transform="rotate(88 20.2 99.2)"/><ellipse cx="602.6" cy="546.2" rx="1.14" ry="0.89" fill="#6a9aca" fill-opacity="0.45" transform="rotate(86 602.6 546.2)"/><ellipse cx="765.8" cy="597.4" rx="1.05" ry="0.67" fill="#7fb0dc" fill-opacity="0.49" transform="rotate(92 765.8 597.4)"/><ellipse cx="757.9" cy="594.6" rx="1.15" ry="0.84" fill="#5d8ec4" fill-opacity="0.85" transform="rotate(5 757.9 594.6)"/><ellipse cx="693.0" cy="596.9" rx="1.11" ry="0.85" fill="#5d8ec4" fill-opacity="0.82" transform="rotate(126 693.0 596.9)"/><ellipse cx="788.2" cy="4.0" rx="1.82" ry="1.22" fill="#6a9aca" fill-opacity="0.53" transform="rotate(132 788.2 4.0)"/><ellipse cx="17.9" cy="191.6" rx="1.71" ry="1.21" fill="#7fb0dc" fill-opacity="0.58" transform="rotate(94 17.9 191.6)"/><ellipse cx="607.6" cy="47.1" rx="1.64" ry="1.33" fill="#7fb0dc" fill-opacity="0.82" transform="rotate(71 607.6 47.1)"/><ellipse cx="20.1" cy="302.7" rx="1.73" ry="1.12" fill="#5d8ec4" fill-opacity="0.49" transform="rotate(103 20.1 302.7)"/><ellipse cx="188.6" cy="40.8" rx="1.41" ry="1.07" fill="#5d8ec4" fill-opacity="0.72" transform="rotate(83 188.6 40.8)"/><ellipse cx="920.1" cy="4.1" rx="1.36" ry="1.02" fill="#7fb0dc" fill-opacity="0.69" transform="rotate(12 920.1 4.1)"/><ellipse cx="740.0" cy="583.1" rx="1.00" ry="0.79" fill="#6a9aca" fill-opacity="0.81" transform="rotate(56 740.0 583.1)"/><ellipse cx="76.6" cy="598.0" rx="0.77" ry="0.59" fill="#94bde6" fill-opacity="0.48" transform="rotate(118 76.6 598.0)"/><ellipse cx="782.3" cy="590.4" rx="1.17" ry="0.86" fill="#7fb0dc" fill-opacity="0.59" transform="rotate(86 782.3 590.4)"/><ellipse cx="47.5" cy="566.6" rx="0.96" ry="0.84" fill="#5d8ec4" fill-opacity="0.83" transform="rotate(113 47.5 566.6)"/><ellipse cx="246.9" cy="25.8" rx="1.83" ry="1.50" fill="#5d8ec4" fill-opacity="0.59" transform="rotate(34 246.9 25.8)"/><ellipse cx="694.4" cy="594.3" rx="1.29" ry="0.83" fill="#7fb0dc" fill-opacity="0.60" transform="rotate(78 694.4 594.3)"/><ellipse cx="436.5" cy="584.7" rx="1.42" ry="1.09" fill="#6a9aca" fill-opacity="0.87" transform="rotate(164 436.5 584.7)"/><ellipse cx="28.3" cy="340.0" rx="1.23" ry="1.09" fill="#7fb0dc" fill-opacity="0.80" transform="rotate(88 28.3 340.0)"/><ellipse cx="683.4" cy="564.3" rx="0.72" ry="0.60" fill="#7fb0dc" fill-opacity="0.75" transform="rotate(89 683.4 564.3)"/><ellipse cx="686.8" cy="553.2" rx="1.10" ry="0.85" fill="#5d8ec4" fill-opacity="0.62" transform="rotate(29 686.8 553.2)"/><ellipse cx="381.6" cy="16.6" rx="2.16" ry="1.82" fill="#5d8ec4" fill-opacity="0.62" transform="rotate(19 381.6 16.6)"/><ellipse cx="1018.6" cy="319.6" rx="0.94" ry="0.75" fill="#76a4d0" fill-opacity="0.56" transform="rotate(70 1018.6 319.6)"/><ellipse cx="1.9" cy="36.3" rx="1.38" ry="1.00" fill="#5d8ec4" fill-opacity="0.87" transform="rotate(98 1.9 36.3)"/><ellipse cx="640.1" cy="58.4" rx="2.23" ry="1.77" fill="#76a4d0" fill-opacity="0.64" transform="rotate(148 640.1 58.4)"/><ellipse cx="536.6" cy="33.0" rx="1.57" ry="0.99" fill="#5d8ec4" fill-opacity="0.90" transform="rotate(86 536.6 33.0)"/><ellipse cx="322.5" cy="547.3" rx="1.25" ry="0.90" fill="#76a4d0" fill-opacity="0.60" transform="rotate(128 322.5 547.3)"/><ellipse cx="323.2" cy="542.3" rx="0.70" ry="0.61" fill="#76a4d0" fill-opacity="0.86" transform="rotate(120 323.2 542.3)"/><ellipse cx="234.5" cy="49.0" rx="2.43" ry="1.73" fill="#7fb0dc" fill-opacity="0.78" transform="rotate(37 234.5 49.0)"/><ellipse cx="998.1" cy="504.8" rx="1.31" ry="0.93" fill="#6a9aca" fill-opacity="0.48" transform="rotate(79 998.1 504.8)"/><ellipse cx="871.0" cy="582.2" rx="1.39" ry="0.89" fill="#6a9aca" fill-opacity="0.72" transform="rotate(133 871.0 582.2)"/><ellipse cx="512.8" cy="586.0" rx="1.01" ry="0.79" fill="#76a4d0" fill-opacity="0.69" transform="rotate(142 512.8 586.0)"/><ellipse cx="29.2" cy="360.8" rx="1.67" ry="1.11" fill="#76a4d0" fill-opacity="0.78" transform="rotate(130 29.2 360.8)"/><ellipse cx="1010.7" cy="426.2" rx="1.85" ry="1.42" fill="#7fb0dc" fill-opacity="0.54" transform="rotate(165 1010.7 426.2)"/><ellipse cx="327.0" cy="33.2" rx="2.33" ry="1.77" fill="#94bde6" fill-opacity="0.43" transform="rotate(142 327.0 33.2)"/><ellipse cx="976.0" cy="14.4" rx="1.99" ry="1.39" fill="#76a4d0" fill-opacity="0.62" transform="rotate(65 976.0 14.4)"/><ellipse cx="29.2" cy="363.7" rx="1.47" ry="0.95" fill="#94bde6" fill-opacity="0.66" transform="rotate(101 29.2 363.7)"/><ellipse cx="489.1" cy="594.5" rx="1.26" ry="1.02" fill="#5d8ec4" fill-opacity="0.89" transform="rotate(67 489.1 594.5)"/><ellipse cx="325.5" cy="2.6" rx="1.47" ry="1.40" fill="#6a9aca" fill-opacity="0.74" transform="rotate(165 325.5 2.6)"/><ellipse cx="381.9" cy="594.2" rx="0.82" ry="0.60" fill="#94bde6" fill-opacity="0.62" transform="rotate(104 381.9 594.2)"/><ellipse cx="462.2" cy="581.1" rx="0.74" ry="0.58" fill="#94bde6" fill-opacity="0.86" transform="rotate(4 462.2 581.1)"/><ellipse cx="124.9" cy="43.4" rx="1.42" ry="1.18" fill="#6a9aca" fill-opacity="0.69" transform="rotate(107 124.9 43.4)"/><ellipse cx="973.3" cy="29.3" rx="1.90" ry="1.41" fill="#5d8ec4" fill-opacity="0.51" transform="rotate(166 973.3 29.3)"/><ellipse cx="569.8" cy="565.3" rx="0.71" ry="0.57" fill="#7fb0dc" fill-opacity="0.71" transform="rotate(15 569.8 565.3)"/><ellipse cx="14.9" cy="308.5" rx="0.89" ry="0.74" fill="#5d8ec4" fill-opacity="0.51" transform="rotate(97 14.9 308.5)"/><ellipse cx="407.7" cy="576.6" rx="0.75" ry="0.52" fill="#6a9aca" fill-opacity="0.87" transform="rotate(125 407.7 576.6)"/><ellipse cx="493.0" cy="550.1" rx="0.95" ry="0.69" fill="#5d8ec4" fill-opacity="0.50" transform="rotate(0 493.0 550.1)"/><ellipse cx="28.2" cy="416.7" rx="1.76" ry="1.32" fill="#5d8ec4" fill-opacity="0.55" transform="rotate(38 28.2 416.7)"/><ellipse cx="271.8" cy="565.9" rx="1.00" ry="0.69" fill="#76a4d0" fill-opacity="0.63" transform="rotate(51 271.8 565.9)"/><ellipse cx="5.8" cy="230.0" rx="1.31" ry="0.90" fill="#6a9aca" fill-opacity="0.41" transform="rotate(44 5.8 230.0)"/><ellipse cx="203.9" cy="598.1" rx="1.13" ry="0.71" fill="#76a4d0" fill-opacity="0.47" transform="rotate(20 203.9 598.1)"/><ellipse cx="610.3" cy="545.3" rx="1.36" ry="1.02" fill="#5d8ec4" fill-opacity="0.86" transform="rotate(124 610.3 545.3)"/><ellipse cx="353.4" cy="558.7" rx="0.95" ry="0.76" fill="#76a4d0" fill-opacity="0.81" transform="rotate(80 353.4 558.7)"/><ellipse cx="1009.1" cy="523.2" rx="1.19" ry="0.85" fill="#7fb0dc" fill-opacity="0.90" transform="rotate(145 1009.1 523.2)"/><ellipse cx="1006.9" cy="22.3" rx="1.71" ry="1.33" fill="#76a4d0" fill-opacity="0.85" transform="rotate(107 1006.9 22.3)"/><ellipse cx="92.9" cy="579.5" rx="0.94" ry="0.72" fill="#76a4d0" fill-opacity="0.55" transform="rotate(53 92.9 579.5)"/><ellipse cx="807.2" cy="585.9" rx="0.78" ry="0.60" fill="#94bde6" fill-opacity="0.76" transform="rotate(172 807.2 585.9)"/><ellipse cx="306.4" cy="571.8" rx="0.96" ry="0.70" fill="#6a9aca" fill-opacity="0.43" transform="rotate(67 306.4 571.8)"/><ellipse cx="999.8" cy="216.5" rx="1.74" ry="1.02" fill="#94bde6" fill-opacity="0.79" transform="rotate(157 999.8 216.5)"/><ellipse cx="151.0" cy="545.9" rx="1.11" ry="0.90" fill="#5d8ec4" fill-opacity="0.83" transform="rotate(169 151.0 545.9)"/><ellipse cx="673.0" cy="31.1" rx="1.46" ry="1.13" fill="#94bde6" fill-opacity="0.45" transform="rotate(16 673.0 31.1)"/><ellipse cx="185.9" cy="555.9" rx="1.18" ry="0.74" fill="#5d8ec4" fill-opacity="0.81" transform="rotate(12 185.9 555.9)"/><ellipse cx="626.2" cy="548.7" rx="1.30" ry="1.06" fill="#76a4d0" fill-opacity="0.68" transform="rotate(15 626.2 548.7)"/><ellipse cx="15.3" cy="507.4" rx="1.25" ry="0.97" fill="#6a9aca" fill-opacity="0.51" transform="rotate(21 15.3 507.4)"/><ellipse cx="541.0" cy="56.0" rx="1.48" ry="1.13" fill="#94bde6" fill-opacity="0.86" transform="rotate(118 541.0 56.0)"/><ellipse cx="42.7" cy="17.3" rx="1.62" ry="1.26" fill="#76a4d0" fill-opacity="0.51" transform="rotate(111 42.7 17.3)"/><ellipse cx="587.9" cy="24.3" rx="1.38" ry="1.00" fill="#7fb0dc" fill-opacity="0.74" transform="rotate(150 587.9 24.3)"/><ellipse cx="877.1" cy="10.4" rx="1.16" ry="0.89" fill="#76a4d0" fill-opacity="0.58" transform="rotate(1 877.1 10.4)"/><ellipse cx="14.3" cy="342.1" rx="1.13" ry="1.00" fill="#94bde6" fill-opacity="0.55" transform="rotate(60 14.3 342.1)"/><ellipse cx="1014.5" cy="428.6" rx="1.41" ry="1.25" fill="#76a4d0" fill-opacity="0.72" transform="rotate(174 1014.5 428.6)"/><ellipse cx="534.4" cy="23.6" rx="1.05" ry="0.99" fill="#94bde6" fill-opacity="0.89" transform="rotate(118 534.4 23.6)"/><ellipse cx="675.2" cy="13.9" rx="2.25" ry="1.92" fill="#5d8ec4" fill-opacity="0.64" transform="rotate(97 675.2 13.9)"/><ellipse cx="2.1" cy="367.6" rx="1.25" ry="0.88" fill="#7fb0dc" fill-opacity="0.79" transform="rotate(132 2.1 367.6)"/><ellipse cx="993.0" cy="459.1" rx="1.72" ry="1.12" fill="#5d8ec4" fill-opacity="0.71" transform="rotate(173 993.0 459.1)"/><ellipse cx="1011.1" cy="153.4" rx="1.69" ry="1.61" fill="#5d8ec4" fill-opacity="0.49" transform="rotate(98 1011.1 153.4)"/><ellipse cx="900.0" cy="575.3" rx="1.04" ry="0.76" fill="#94bde6" fill-opacity="0.59" transform="rotate(102 900.0 575.3)"/><ellipse cx="1007.9" cy="82.1" rx="1.35" ry="0.99" fill="#94bde6" fill-opacity="0.53" transform="rotate(54 1007.9 82.1)"/><ellipse cx="583.8" cy="573.8" rx="1.14" ry="0.94" fill="#94bde6" fill-opacity="0.78" transform="rotate(68 583.8 573.8)"/><ellipse cx="769.2" cy="594.8" rx="1.48" ry="1.13" fill="#7fb0dc" fill-opacity="0.77" transform="rotate(132 769.2 594.8)"/><ellipse cx="738.4" cy="36.7" rx="2.38" ry="1.42" fill="#7fb0dc" fill-opacity="0.84" transform="rotate(17 738.4 36.7)"/><ellipse cx="924.5" cy="33.3" rx="1.59" ry="1.03" fill="#94bde6" fill-opacity="0.62" transform="rotate(60 924.5 33.3)"/><ellipse cx="284.6" cy="31.8" rx="2.45" ry="1.61" fill="#76a4d0" fill-opacity="0.66" transform="rotate(130 284.6 31.8)"/><ellipse cx="388.6" cy="584.3" rx="1.44" ry="1.07" fill="#94bde6" fill-opacity="0.45" transform="rotate(62 388.6 584.3)"/><ellipse cx="697.1" cy="552.4" rx="0.92" ry="0.57" fill="#7fb0dc" fill-opacity="0.88" transform="rotate(66 697.1 552.4)"/><ellipse cx="29.6" cy="216.1" rx="2.01" ry="1.45" fill="#7fb0dc" fill-opacity="0.69" transform="rotate(180 29.6 216.1)"/><ellipse cx="708.2" cy="52.6" rx="1.30" ry="1.10" fill="#6a9aca" fill-opacity="0.73" transform="rotate(141 708.2 52.6)"/><ellipse cx="17.9" cy="312.1" rx="0.85" ry="0.63" fill="#76a4d0" fill-opacity="0.64" transform="rotate(62 17.9 312.1)"/><ellipse cx="547.3" cy="18.4" rx="1.09" ry="0.92" fill="#7fb0dc" fill-opacity="0.68" transform="rotate(137 547.3 18.4)"/><ellipse cx="896.5" cy="9.3" rx="1.44" ry="1.17" fill="#94bde6" fill-opacity="0.82" transform="rotate(167 896.5 9.3)"/><ellipse cx="337.5" cy="20.3" rx="2.17" ry="1.64" fill="#6a9aca" fill-opacity="0.78" transform="rotate(6 337.5 20.3)"/><ellipse cx="583.2" cy="15.3" rx="1.95" ry="1.39" fill="#76a4d0" fill-opacity="0.87" transform="rotate(87 583.2 15.3)"/><ellipse cx="780.0" cy="571.9" rx="1.34" ry="0.89" fill="#7fb0dc" fill-opacity="0.45" transform="rotate(17 780.0 571.9)"/><ellipse cx="1010.6" cy="523.5" rx="1.24" ry="0.94" fill="#94bde6" fill-opacity="0.74" transform="rotate(94 1010.6 523.5)"/><ellipse cx="160.4" cy="18.0" rx="2.29" ry="1.42" fill="#76a4d0" fill-opacity="0.78" transform="rotate(153 160.4 18.0)"/><ellipse cx="739.2" cy="596.6" rx="1.07" ry="0.70" fill="#7fb0dc" fill-opacity="0.65" transform="rotate(175 739.2 596.6)"/><ellipse cx="560.7" cy="549.2" rx="1.03" ry="0.73" fill="#5d8ec4" fill-opacity="0.56" transform="rotate(152 560.7 549.2)"/><ellipse cx="19.4" cy="434.1" rx="1.57" ry="1.26" fill="#6a9aca" fill-opacity="0.43" transform="rotate(74 19.4 434.1)"/><ellipse cx="23.8" cy="13.4" rx="1.62" ry="1.37" fill="#5d8ec4" fill-opacity="0.52" transform="rotate(155 23.8 13.4)"/><ellipse cx="672.8" cy="42.1" rx="1.71" ry="1.29" fill="#6a9aca" fill-opacity="0.75" transform="rotate(100 672.8 42.1)"/><ellipse cx="995.3" cy="284.4" rx="0.98" ry="0.74" fill="#6a9aca" fill-opacity="0.50" transform="rotate(3 995.3 284.4)"/><ellipse cx="28.3" cy="337.8" rx="1.71" ry="1.29" fill="#76a4d0" fill-opacity="0.52" transform="rotate(160 28.3 337.8)"/><ellipse cx="379.6" cy="50.3" rx="1.63" ry="1.22" fill="#76a4d0" fill-opacity="0.67" transform="rotate(176 379.6 50.3)"/><ellipse cx="0.0" cy="122.4" rx="1.90" ry="1.15" fill="#5d8ec4" fill-opacity="0.67" transform="rotate(133 0.0 122.4)"/><ellipse cx="5.2" cy="0.2" rx="1.89" ry="1.44" fill="#5d8ec4" fill-opacity="0.65" transform="rotate(51 5.2 0.2)"/><ellipse cx="602.7" cy="563.9" rx="1.00" ry="0.83" fill="#76a4d0" fill-opacity="0.53" transform="rotate(100 602.7 563.9)"/><ellipse cx="725.4" cy="15.6" rx="1.91" ry="1.65" fill="#7fb0dc" fill-opacity="0.86" transform="rotate(121 725.4 15.6)"/><ellipse cx="565.1" cy="588.9" rx="1.28" ry="0.97" fill="#76a4d0" fill-opacity="0.85" transform="rotate(75 565.1 588.9)"/><ellipse cx="993.2" cy="320.6" rx="1.24" ry="0.91" fill="#7fb0dc" fill-opacity="0.43" transform="rotate(80 993.2 320.6)"/><ellipse cx="66.5" cy="549.4" rx="0.79" ry="0.68" fill="#5d8ec4" fill-opacity="0.49" transform="rotate(62 66.5 549.4)"/><ellipse cx="482.5" cy="563.3" rx="1.01" ry="0.74" fill="#6a9aca" fill-opacity="0.54" transform="rotate(54 482.5 563.3)"/><ellipse cx="990.2" cy="92.2" rx="1.48" ry="1.02" fill="#6a9aca" fill-opacity="0.47" transform="rotate(62 990.2 92.2)"/><ellipse cx="275.4" cy="27.2" rx="1.89" ry="1.58" fill="#76a4d0" fill-opacity="0.43" transform="rotate(103 275.4 27.2)"/><ellipse cx="331.6" cy="570.5" rx="1.13" ry="0.66" fill="#94bde6" fill-opacity="0.89" transform="rotate(42 331.6 570.5)"/><ellipse cx="13.4" cy="527.2" rx="0.74" ry="0.51" fill="#7fb0dc" fill-opacity="0.47" transform="rotate(166 13.4 527.2)"/><ellipse cx="381.5" cy="566.6" rx="1.19" ry="0.70" fill="#7fb0dc" fill-opacity="0.75" transform="rotate(70 381.5 566.6)"/><ellipse cx="1001.9" cy="156.7" rx="1.41" ry="0.90" fill="#5d8ec4" fill-opacity="0.42" transform="rotate(114 1001.9 156.7)"/><ellipse cx="972.3" cy="41.5" rx="1.85" ry="1.27" fill="#94bde6" fill-opacity="0.77" transform="rotate(155 972.3 41.5)"/><ellipse cx="961.8" cy="9.0" rx="1.52" ry="1.12" fill="#76a4d0" fill-opacity="0.72" transform="rotate(139 961.8 9.0)"/><ellipse cx="616.4" cy="6.8" rx="2.02" ry="1.80" fill="#94bde6" fill-opacity="0.51" transform="rotate(164 616.4 6.8)"/><ellipse cx="578.0" cy="547.4" rx="1.27" ry="0.87" fill="#5d8ec4" fill-opacity="0.78" transform="rotate(159 578.0 547.4)"/><ellipse cx="980.5" cy="2.4" rx="1.56" ry="1.25" fill="#6a9aca" fill-opacity="0.51" transform="rotate(153 980.5 2.4)"/><ellipse cx="27.8" cy="398.4" rx="1.05" ry="0.66" fill="#94bde6" fill-opacity="0.67" transform="rotate(49 27.8 398.4)"/><ellipse cx="294.2" cy="19.5" rx="1.81" ry="1.24" fill="#76a4d0" fill-opacity="0.49" transform="rotate(146 294.2 19.5)"/><ellipse cx="414.0" cy="581.4" rx="1.13" ry="0.90" fill="#7fb0dc" fill-opacity="0.66" transform="rotate(109 414.0 581.4)"/><ellipse cx="8.8" cy="432.4" rx="1.66" ry="1.31" fill="#94bde6" fill-opacity="0.45" transform="rotate(136 8.8 432.4)"/><ellipse cx="410.7" cy="563.1" rx="1.46" ry="1.13" fill="#5d8ec4" fill-opacity="0.62" transform="rotate(135 410.7 563.1)"/><ellipse cx="972.3" cy="592.1" rx="1.25" ry="0.80" fill="#5d8ec4" fill-opacity="0.70" transform="rotate(17 972.3 592.1)"/><ellipse cx="383.9" cy="559.3" rx="0.91" ry="0.79" fill="#94bde6" fill-opacity="0.79" transform="rotate(63 383.9 559.3)"/><ellipse cx="323.2" cy="587.1" rx="1.02" ry="0.67" fill="#7fb0dc" fill-opacity="0.48" transform="rotate(112 323.2 587.1)"/><ellipse cx="61.5" cy="570.4" rx="1.51" ry="0.96" fill="#6a9aca" fill-opacity="0.63" transform="rotate(119 61.5 570.4)"/><ellipse cx="830.2" cy="590.8" rx="0.75" ry="0.58" fill="#7fb0dc" fill-opacity="0.74" transform="rotate(81 830.2 590.8)"/><ellipse cx="16.5" cy="78.3" rx="2.09" ry="1.67" fill="#94bde6" fill-opacity="0.78" transform="rotate(46 16.5 78.3)"/><ellipse cx="1009.8" cy="184.4" rx="1.67" ry="1.20" fill="#5d8ec4" fill-opacity="0.61" transform="rotate(24 1009.8 184.4)"/><ellipse cx="13.5" cy="517.9" rx="0.98" ry="0.81" fill="#76a4d0" fill-opacity="0.54" transform="rotate(103 13.5 517.9)"/><ellipse cx="989.5" cy="17.4" rx="2.09" ry="1.59" fill="#76a4d0" fill-opacity="0.49" transform="rotate(80 989.5 17.4)"/><ellipse cx="860.5" cy="11.9" rx="1.81" ry="1.55" fill="#7fb0dc" fill-opacity="0.51" transform="rotate(112 860.5 11.9)"/><ellipse cx="272.6" cy="14.2" rx="1.94" ry="1.27" fill="#6a9aca" fill-opacity="0.58" transform="rotate(8 272.6 14.2)"/><ellipse cx="445.3" cy="28.5" rx="1.44" ry="1.23" fill="#76a4d0" fill-opacity="0.87" transform="rotate(139 445.3 28.5)"/><ellipse cx="247.1" cy="586.8" rx="1.22" ry="0.94" fill="#5d8ec4" fill-opacity="0.51" transform="rotate(94 247.1 586.8)"/><ellipse cx="438.2" cy="593.9" rx="0.78" ry="0.67" fill="#5d8ec4" fill-opacity="0.76" transform="rotate(139 438.2 593.9)"/><ellipse cx="714.6" cy="584.9" rx="1.12" ry="0.86" fill="#7fb0dc" fill-opacity="0.75" transform="rotate(145 714.6 584.9)"/><ellipse cx="478.9" cy="570.6" rx="1.17" ry="0.73" fill="#5d8ec4" fill-opacity="0.68" transform="rotate(93 478.9 570.6)"/><ellipse cx="1005.1" cy="48.6" rx="1.48" ry="1.14" fill="#5d8ec4" fill-opacity="0.53" transform="rotate(7 1005.1 48.6)"/><ellipse cx="421.3" cy="41.3" rx="1.51" ry="1.00" fill="#94bde6" fill-opacity="0.62" transform="rotate(42 421.3 41.3)"/><ellipse cx="346.6" cy="31.4" rx="2.01" ry="1.51" fill="#76a4d0" fill-opacity="0.78" transform="rotate(99 346.6 31.4)"/><ellipse cx="516.0" cy="36.1" rx="1.06" ry="0.81" fill="#76a4d0" fill-opacity="0.55" transform="rotate(32 516.0 36.1)"/><ellipse cx="260.3" cy="43.3" rx="1.40" ry="1.03" fill="#5d8ec4" fill-opacity="0.84" transform="rotate(133 260.3 43.3)"/><ellipse cx="559.8" cy="572.1" rx="0.76" ry="0.60" fill="#94bde6" fill-opacity="0.67" transform="rotate(16 559.8 572.1)"/><ellipse cx="998.4" cy="267.2" rx="1.28" ry="1.03" fill="#76a4d0" fill-opacity="0.71" transform="rotate(19 998.4 267.2)"/><ellipse cx="25.2" cy="23.1" rx="1.74" ry="1.25" fill="#6a9aca" fill-opacity="0.85" transform="rotate(107 25.2 23.1)"/><ellipse cx="100.1" cy="41.9" rx="2.26" ry="1.44" fill="#76a4d0" fill-opacity="0.72" transform="rotate(64 100.1 41.9)"/><ellipse cx="31.3" cy="107.1" rx="2.32" ry="1.38" fill="#76a4d0" fill-opacity="0.90" transform="rotate(101 31.3 107.1)"/><ellipse cx="108.8" cy="42.1" rx="2.56" ry="1.66" fill="#6a9aca" fill-opacity="0.43" transform="rotate(140 108.8 42.1)"/><ellipse cx="275.0" cy="556.9" rx="1.18" ry="1.10" fill="#76a4d0" fill-opacity="0.56" transform="rotate(2 275.0 556.9)"/><ellipse cx="99.1" cy="57.7" rx="2.02" ry="1.81" fill="#6a9aca" fill-opacity="0.58" transform="rotate(122 99.1 57.7)"/><ellipse cx="628.5" cy="586.7" rx="1.47" ry="1.08" fill="#7fb0dc" fill-opacity="0.67" transform="rotate(84 628.5 586.7)"/><ellipse cx="254.0" cy="27.5" rx="1.42" ry="1.09" fill="#76a4d0" fill-opacity="0.53" transform="rotate(154 254.0 27.5)"/><ellipse cx="1007.8" cy="407.8" rx="1.10" ry="0.90" fill="#76a4d0" fill-opacity="0.51" transform="rotate(6 1007.8 407.8)"/><ellipse cx="16.9" cy="418.9" rx="1.75" ry="1.28" fill="#7fb0dc" fill-opacity="0.83" transform="rotate(179 16.9 418.9)"/><ellipse cx="58.4" cy="579.2" rx="1.37" ry="0.84" fill="#76a4d0" fill-opacity="0.43" transform="rotate(46 58.4 579.2)"/><ellipse cx="25.3" cy="126.1" rx="1.78" ry="1.37" fill="#76a4d0" fill-opacity="0.88" transform="rotate(61 25.3 126.1)"/><ellipse cx="1008.9" cy="149.7" rx="2.13" ry="1.78" fill="#7fb0dc" fill-opacity="0.52" transform="rotate(77 1008.9 149.7)"/><ellipse cx="234.0" cy="23.0" rx="2.05" ry="1.52" fill="#5d8ec4" fill-opacity="0.88" transform="rotate(153 234.0 23.0)"/><ellipse cx="584.6" cy="3.3" rx="1.45" ry="1.02" fill="#5d8ec4" fill-opacity="0.52" transform="rotate(173 584.6 3.3)"/><ellipse cx="708.3" cy="592.1" rx="1.02" ry="0.77" fill="#7fb0dc" fill-opacity="0.73" transform="rotate(39 708.3 592.1)"/><ellipse cx="1004.9" cy="422.8" rx="1.28" ry="0.82" fill="#7fb0dc" fill-opacity="0.76" transform="rotate(23 1004.9 422.8)"/><ellipse cx="367.2" cy="7.5" rx="2.16" ry="1.61" fill="#6a9aca" fill-opacity="0.90" transform="rotate(107 367.2 7.5)"/><ellipse cx="243.3" cy="590.6" rx="1.22" ry="0.97" fill="#76a4d0" fill-opacity="0.81" transform="rotate(14 243.3 590.6)"/><ellipse cx="113.4" cy="15.6" rx="1.12" ry="0.92" fill="#6a9aca" fill-opacity="0.74" transform="rotate(84 113.4 15.6)"/><ellipse cx="822.3" cy="575.2" rx="0.91" ry="0.70" fill="#76a4d0" fill-opacity="0.47" transform="rotate(156 822.3 575.2)"/><ellipse cx="432.1" cy="542.8" rx="1.43" ry="0.87" fill="#76a4d0" fill-opacity="0.82" transform="rotate(77 432.1 542.8)"/><ellipse cx="1019.2" cy="139.9" rx="1.91" ry="1.28" fill="#6a9aca" fill-opacity="0.54" transform="rotate(46 1019.2 139.9)"/><ellipse cx="802.4" cy="26.4" rx="1.93" ry="1.76" fill="#7fb0dc" fill-opacity="0.58" transform="rotate(148 802.4 26.4)"/><ellipse cx="399.6" cy="5.4" rx="2.02" ry="1.53" fill="#76a4d0" fill-opacity="0.64" transform="rotate(108 399.6 5.4)"/><ellipse cx="137.5" cy="581.2" rx="1.02" ry="0.69" fill="#94bde6" fill-opacity="0.49" transform="rotate(43 137.5 581.2)"/><ellipse cx="1013.3" cy="104.6" rx="1.89" ry="1.72" fill="#5d8ec4" fill-opacity="0.84" transform="rotate(89 1013.3 104.6)"/><ellipse cx="312.1" cy="27.3" rx="1.67" ry="1.10" fill="#94bde6" fill-opacity="0.64" transform="rotate(131 312.1 27.3)"/><ellipse cx="134.2" cy="6.4" rx="2.37" ry="1.93" fill="#7fb0dc" fill-opacity="0.43" transform="rotate(135 134.2 6.4)"/><ellipse cx="760.0" cy="555.8" rx="0.94" ry="0.67" fill="#6a9aca" fill-opacity="0.62" transform="rotate(98 760.0 555.8)"/><ellipse cx="485.0" cy="543.7" rx="1.09" ry="0.73" fill="#5d8ec4" fill-opacity="0.80" transform="rotate(62 485.0 543.7)"/><ellipse cx="945.1" cy="581.4" rx="1.26" ry="0.78" fill="#5d8ec4" fill-opacity="0.51" transform="rotate(34 945.1 581.4)"/><ellipse cx="277.2" cy="542.8" rx="0.90" ry="0.73" fill="#6a9aca" fill-opacity="0.55" transform="rotate(67 277.2 542.8)"/><ellipse cx="912.1" cy="33.4" rx="1.25" ry="0.97" fill="#94bde6" fill-opacity="0.44" transform="rotate(14 912.1 33.4)"/><ellipse cx="134.0" cy="26.8" rx="1.19" ry="0.81" fill="#94bde6" fill-opacity="0.46" transform="rotate(6 134.0 26.8)"/><ellipse cx="989.6" cy="67.2" rx="1.76" ry="1.36" fill="#76a4d0" fill-opacity="0.46" transform="rotate(46 989.6 67.2)"/><ellipse cx="0.1" cy="212.5" rx="1.20" ry="0.92" fill="#5d8ec4" fill-opacity="0.45" transform="rotate(76 0.1 212.5)"/><ellipse cx="997.2" cy="118.2" rx="1.51" ry="1.15" fill="#6a9aca" fill-opacity="0.60" transform="rotate(55 997.2 118.2)"/><ellipse cx="311.4" cy="13.8" rx="1.63" ry="1.28" fill="#6a9aca" fill-opacity="0.59" transform="rotate(24 311.4 13.8)"/><ellipse cx="1005.7" cy="228.1" rx="1.00" ry="0.74" fill="#7fb0dc" fill-opacity="0.61" transform="rotate(37 1005.7 228.1)"/><ellipse cx="43.2" cy="568.5" rx="1.17" ry="0.84" fill="#5d8ec4" fill-opacity="0.63" transform="rotate(3 43.2 568.5)"/><ellipse cx="999.0" cy="487.9" rx="0.75" ry="0.51" fill="#6a9aca" fill-opacity="0.84" transform="rotate(120 999.0 487.9)"/><ellipse cx="641.8" cy="41.2" rx="2.10" ry="1.23" fill="#6a9aca" fill-opacity="0.76" transform="rotate(132 641.8 41.2)"/><ellipse cx="249.2" cy="0.2" rx="1.19" ry="1.01" fill="#76a4d0" fill-opacity="0.64" transform="rotate(14 249.2 0.2)"/><ellipse cx="742.7" cy="587.3" rx="0.78" ry="0.71" fill="#6a9aca" fill-opacity="0.80" transform="rotate(105 742.7 587.3)"/><ellipse cx="1001.4" cy="535.5" rx="0.83" ry="0.57" fill="#94bde6" fill-opacity="0.64" transform="rotate(42 1001.4 535.5)"/><ellipse cx="348.6" cy="544.4" rx="0.78" ry="0.58" fill="#5d8ec4" fill-opacity="0.80" transform="rotate(168 348.6 544.4)"/><ellipse cx="682.0" cy="44.8" rx="1.34" ry="1.20" fill="#7fb0dc" fill-opacity="0.68" transform="rotate(39 682.0 44.8)"/><ellipse cx="703.7" cy="39.9" rx="1.31" ry="1.05" fill="#76a4d0" fill-opacity="0.47" transform="rotate(115 703.7 39.9)"/><ellipse cx="508.7" cy="17.6" rx="1.12" ry="0.86" fill="#6a9aca" fill-opacity="0.76" transform="rotate(46 508.7 17.6)"/><ellipse cx="201.4" cy="578.9" rx="1.20" ry="0.89" fill="#5d8ec4" fill-opacity="0.42" transform="rotate(10 201.4 578.9)"/><ellipse cx="260.3" cy="590.4" rx="0.64" ry="0.48" fill="#94bde6" fill-opacity="0.74" transform="rotate(147 260.3 590.4)"/><ellipse cx="287.0" cy="578.7" rx="1.14" ry="0.89" fill="#94bde6" fill-opacity="0.68" transform="rotate(115 287.0 578.7)"/><ellipse cx="1003.3" cy="585.9" rx="1.42" ry="0.86" fill="#76a4d0" fill-opacity="0.81" transform="rotate(158 1003.3 585.9)"/><ellipse cx="960.3" cy="40.5" rx="2.66" ry="1.90" fill="#6a9aca" fill-opacity="0.76" transform="rotate(146 960.3 40.5)"/><ellipse cx="709.8" cy="597.4" rx="1.08" ry="0.78" fill="#76a4d0" fill-opacity="0.71" transform="rotate(34 709.8 597.4)"/><ellipse cx="574.2" cy="568.6" rx="1.64" ry="1.02" fill="#6a9aca" fill-opacity="0.71" transform="rotate(75 574.2 568.6)"/><ellipse cx="905.3" cy="583.7" rx="1.05" ry="0.96" fill="#7fb0dc" fill-opacity="0.88" transform="rotate(75 905.3 583.7)"/><ellipse cx="686.4" cy="592.7" rx="1.13" ry="0.79" fill="#6a9aca" fill-opacity="0.55" transform="rotate(144 686.4 592.7)"/><ellipse cx="8.1" cy="93.5" rx="1.84" ry="1.49" fill="#7fb0dc" fill-opacity="0.71" transform="rotate(6 8.1 93.5)"/><ellipse cx="433.2" cy="571.5" rx="0.68" ry="0.54" fill="#94bde6" fill-opacity="0.75" transform="rotate(169 433.2 571.5)"/><ellipse cx="635.0" cy="546.8" rx="1.42" ry="1.14" fill="#76a4d0" fill-opacity="0.42" transform="rotate(20 635.0 546.8)"/><ellipse cx="10.7" cy="521.9" rx="1.45" ry="1.16" fill="#94bde6" fill-opacity="0.59" transform="rotate(69 10.7 521.9)"/><ellipse cx="705.7" cy="540.6" rx="1.01" ry="0.74" fill="#7fb0dc" fill-opacity="0.66" transform="rotate(177 705.7 540.6)"/><ellipse cx="988.0" cy="17.2" rx="1.92" ry="1.62" fill="#5d8ec4" fill-opacity="0.44" transform="rotate(113 988.0 17.2)"/><ellipse cx="394.6" cy="560.7" rx="1.31" ry="0.86" fill="#5d8ec4" fill-opacity="0.72" transform="rotate(175 394.6 560.7)"/><ellipse cx="328.8" cy="38.6" rx="2.04" ry="1.67" fill="#7fb0dc" fill-opacity="0.56" transform="rotate(153 328.8 38.6)"/><ellipse cx="291.6" cy="592.6" rx="0.71" ry="0.53" fill="#6a9aca" fill-opacity="0.87" transform="rotate(90 291.6 592.6)"/><ellipse cx="1011.5" cy="27.7" rx="1.69" ry="1.14" fill="#6a9aca" fill-opacity="0.90" transform="rotate(37 1011.5 27.7)"/><ellipse cx="351.3" cy="599.9" rx="1.04" ry="0.92" fill="#76a4d0" fill-opacity="0.54" transform="rotate(37 351.3 599.9)"/><ellipse cx="5.9" cy="192.7" rx="1.21" ry="0.90" fill="#76a4d0" fill-opacity="0.44" transform="rotate(73 5.9 192.7)"/><ellipse cx="193.0" cy="45.8" rx="1.82" ry="1.35" fill="#7fb0dc" fill-opacity="0.69" transform="rotate(84 193.0 45.8)"/><ellipse cx="228.2" cy="46.9" rx="1.48" ry="1.15" fill="#76a4d0" fill-opacity="0.65" transform="rotate(139 228.2 46.9)"/><ellipse cx="904.1" cy="18.2" rx="1.44" ry="1.11" fill="#5d8ec4" fill-opacity="0.74" transform="rotate(124 904.1 18.2)"/><ellipse cx="5.7" cy="304.3" rx="1.89" ry="1.53" fill="#5d8ec4" fill-opacity="0.42" transform="rotate(112 5.7 304.3)"/><ellipse cx="993.1" cy="409.9" rx="1.00" ry="0.76" fill="#5d8ec4" fill-opacity="0.87" transform="rotate(157 993.1 409.9)"/><ellipse cx="746.5" cy="8.9" rx="2.21" ry="1.57" fill="#6a9aca" fill-opacity="0.69" transform="rotate(5 746.5 8.9)"/><ellipse cx="712.0" cy="36.0" rx="2.16" ry="1.31" fill="#7fb0dc" fill-opacity="0.54" transform="rotate(163 712.0 36.0)"/><ellipse cx="23.5" cy="431.8" rx="1.35" ry="0.90" fill="#5d8ec4" fill-opacity="0.74" transform="rotate(98 23.5 431.8)"/><ellipse cx="3.9" cy="181.1" rx="1.56" ry="1.19" fill="#76a4d0" fill-opacity="0.40" transform="rotate(15 3.9 181.1)"/><ellipse cx="1005.9" cy="582.7" rx="0.89" ry="0.60" fill="#6a9aca" fill-opacity="0.54" transform="rotate(65 1005.9 582.7)"/><ellipse cx="474.7" cy="588.3" rx="1.27" ry="1.04" fill="#6a9aca" fill-opacity="0.57" transform="rotate(114 474.7 588.3)"/><ellipse cx="148.6" cy="551.5" rx="0.72" ry="0.55" fill="#7fb0dc" fill-opacity="0.54" transform="rotate(74 148.6 551.5)"/><ellipse cx="678.0" cy="7.8" rx="1.47" ry="1.07" fill="#94bde6" fill-opacity="0.54" transform="rotate(139 678.0 7.8)"/><ellipse cx="988.6" cy="387.8" rx="1.15" ry="1.02" fill="#76a4d0" fill-opacity="0.64" transform="rotate(8 988.6 387.8)"/><ellipse cx="139.1" cy="5.9" rx="1.36" ry="1.25" fill="#94bde6" fill-opacity="0.66" transform="rotate(112 139.1 5.9)"/><ellipse cx="911.9" cy="594.7" rx="1.24" ry="0.90" fill="#5d8ec4" fill-opacity="0.59" transform="rotate(14 911.9 594.7)"/><ellipse cx="449.1" cy="36.3" rx="1.09" ry="0.95" fill="#7fb0dc" fill-opacity="0.42" transform="rotate(58 449.1 36.3)"/><ellipse cx="223.0" cy="577.3" rx="1.12" ry="0.75" fill="#7fb0dc" fill-opacity="0.88" transform="rotate(116 223.0 577.3)"/><ellipse cx="295.3" cy="21.3" rx="2.17" ry="1.98" fill="#7fb0dc" fill-opacity="0.62" transform="rotate(81 295.3 21.3)"/><ellipse cx="61.7" cy="597.9" rx="1.11" ry="0.70" fill="#6a9aca" fill-opacity="0.47" transform="rotate(50 61.7 597.9)"/><ellipse cx="841.3" cy="9.9" rx="1.98" ry="1.23" fill="#5d8ec4" fill-opacity="0.86" transform="rotate(151 841.3 9.9)"/><ellipse cx="2.9" cy="494.7" rx="0.84" ry="0.59" fill="#7fb0dc" fill-opacity="0.69" transform="rotate(74 2.9 494.7)"/><ellipse cx="347.6" cy="10.2" rx="1.44" ry="0.93" fill="#7fb0dc" fill-opacity="0.87" transform="rotate(24 347.6 10.2)"/><ellipse cx="889.7" cy="589.0" rx="1.26" ry="0.85" fill="#5d8ec4" fill-opacity="0.66" transform="rotate(137 889.7 589.0)"/><ellipse cx="589.9" cy="573.6" rx="1.06" ry="0.69" fill="#6a9aca" fill-opacity="0.45" transform="rotate(121 589.9 573.6)"/><ellipse cx="197.7" cy="591.6" rx="1.12" ry="0.75" fill="#94bde6" fill-opacity="0.82" transform="rotate(47 197.7 591.6)"/><ellipse cx="210.3" cy="558.2" rx="0.85" ry="0.69" fill="#76a4d0" fill-opacity="0.44" transform="rotate(51 210.3 558.2)"/><ellipse cx="997.2" cy="27.7" rx="1.69" ry="1.11" fill="#6a9aca" fill-opacity="0.83" transform="rotate(28 997.2 27.7)"/><ellipse cx="376.6" cy="590.5" rx="1.09" ry="0.81" fill="#6a9aca" fill-opacity="0.45" transform="rotate(50 376.6 590.5)"/><ellipse cx="353.7" cy="585.5" rx="1.07" ry="0.89" fill="#76a4d0" fill-opacity="0.65" transform="rotate(119 353.7 585.5)"/><ellipse cx="995.8" cy="569.0" rx="1.59" ry="0.96" fill="#76a4d0" fill-opacity="0.63" transform="rotate(4 995.8 569.0)"/><ellipse cx="196.6" cy="556.0" rx="1.32" ry="0.99" fill="#6a9aca" fill-opacity="0.57" transform="rotate(61 196.6 556.0)"/><ellipse cx="1018.8" cy="40.2" rx="1.59" ry="1.17" fill="#6a9aca" fill-opacity="0.76" transform="rotate(177 1018.8 40.2)"/><ellipse cx="483.0" cy="31.1" rx="1.92" ry="1.48" fill="#6a9aca" fill-opacity="0.55" transform="rotate(74 483.0 31.1)"/><ellipse cx="998.4" cy="315.1" rx="1.74" ry="1.39" fill="#94bde6" fill-opacity="0.75" transform="rotate(87 998.4 315.1)"/><ellipse cx="14.9" cy="582.6" rx="1.08" ry="0.89" fill="#5d8ec4" fill-opacity="0.68" transform="rotate(56 14.9 582.6)"/><ellipse cx="875.2" cy="589.3" rx="1.18" ry="0.87" fill="#5d8ec4" fill-opacity="0.42" transform="rotate(27 875.2 589.3)"/><ellipse cx="993.4" cy="497.7" rx="0.95" ry="0.62" fill="#7fb0dc" fill-opacity="0.80" transform="rotate(58 993.4 497.7)"/><ellipse cx="12.5" cy="467.6" rx="1.47" ry="0.93" fill="#76a4d0" fill-opacity="0.77" transform="rotate(63 12.5 467.6)"/><ellipse cx="503.8" cy="33.4" rx="1.53" ry="1.10" fill="#6a9aca" fill-opacity="0.78" transform="rotate(76 503.8 33.4)"/><ellipse cx="696.3" cy="584.1" rx="1.06" ry="0.82" fill="#7fb0dc" fill-opacity="0.84" transform="rotate(30 696.3 584.1)"/><ellipse cx="903.1" cy="52.1" rx="2.29" ry="1.70" fill="#7fb0dc" fill-opacity="0.51" transform="rotate(137 903.1 52.1)"/><ellipse cx="849.4" cy="580.8" rx="1.02" ry="0.78" fill="#76a4d0" fill-opacity="0.46" transform="rotate(158 849.4 580.8)"/><ellipse cx="459.4" cy="558.1" rx="1.14" ry="0.94" fill="#7fb0dc" fill-opacity="0.86" transform="rotate(167 459.4 558.1)"/><ellipse cx="54.0" cy="549.2" rx="1.04" ry="0.86" fill="#76a4d0" fill-opacity="0.43" transform="rotate(81 54.0 549.2)"/><ellipse cx="106.1" cy="35.3" rx="2.26" ry="1.43" fill="#7fb0dc" fill-opacity="0.88" transform="rotate(95 106.1 35.3)"/><ellipse cx="418.8" cy="0.6" rx="2.02" ry="1.36" fill="#6a9aca" fill-opacity="0.77" transform="rotate(48 418.8 0.6)"/><ellipse cx="13.2" cy="387.7" rx="1.58" ry="1.08" fill="#94bde6" fill-opacity="0.74" transform="rotate(165 13.2 387.7)"/><ellipse cx="610.8" cy="563.3" rx="1.14" ry="0.77" fill="#94bde6" fill-opacity="0.58" transform="rotate(58 610.8 563.3)"/><ellipse cx="1002.1" cy="408.2" rx="1.17" ry="0.80" fill="#7fb0dc" fill-opacity="0.50" transform="rotate(106 1002.1 408.2)"/><ellipse cx="1001.3" cy="230.9" rx="1.79" ry="1.21" fill="#94bde6" fill-opacity="0.51" transform="rotate(132 1001.3 230.9)"/><ellipse cx="765.2" cy="582.0" rx="1.08" ry="0.78" fill="#7fb0dc" fill-opacity="0.85" transform="rotate(46 765.2 582.0)"/><ellipse cx="1005.6" cy="269.9" rx="1.14" ry="1.02" fill="#7fb0dc" fill-opacity="0.42" transform="rotate(167 1005.6 269.9)"/><ellipse cx="845.2" cy="13.3" rx="1.86" ry="1.57" fill="#76a4d0" fill-opacity="0.80" transform="rotate(142 845.2 13.3)"/><ellipse cx="587.3" cy="581.4" rx="1.26" ry="0.93" fill="#5d8ec4" fill-opacity="0.57" transform="rotate(63 587.3 581.4)"/><ellipse cx="142.7" cy="30.9" rx="2.11" ry="1.36" fill="#7fb0dc" fill-opacity="0.83" transform="rotate(51 142.7 30.9)"/><ellipse cx="996.9" cy="599.0" rx="1.26" ry="0.84" fill="#6a9aca" fill-opacity="0.78" transform="rotate(87 996.9 599.0)"/><ellipse cx="947.9" cy="584.3" rx="1.17" ry="0.78" fill="#5d8ec4" fill-opacity="0.61" transform="rotate(88 947.9 584.3)"/><ellipse cx="523.1" cy="55.7" rx="1.99" ry="1.85" fill="#7fb0dc" fill-opacity="0.58" transform="rotate(57 523.1 55.7)"/><ellipse cx="57.3" cy="541.6" rx="0.88" ry="0.73" fill="#76a4d0" fill-opacity="0.74" transform="rotate(89 57.3 541.6)"/><ellipse cx="0.4" cy="266.0" rx="1.95" ry="1.37" fill="#7fb0dc" fill-opacity="0.70" transform="rotate(67 0.4 266.0)"/><ellipse cx="645.0" cy="559.7" rx="0.78" ry="0.54" fill="#76a4d0" fill-opacity="0.59" transform="rotate(90 645.0 559.7)"/><ellipse cx="510.5" cy="47.7" rx="2.16" ry="1.69" fill="#94bde6" fill-opacity="0.87" transform="rotate(145 510.5 47.7)"/><ellipse cx="863.1" cy="42.5" rx="1.96" ry="1.33" fill="#7fb0dc" fill-opacity="0.63" transform="rotate(176 863.1 42.5)"/><ellipse cx="18.5" cy="587.8" rx="1.10" ry="0.71" fill="#5d8ec4" fill-opacity="0.77" transform="rotate(62 18.5 587.8)"/><ellipse cx="3.7" cy="469.1" rx="1.70" ry="1.17" fill="#7fb0dc" fill-opacity="0.78" transform="rotate(83 3.7 469.1)"/><ellipse cx="203.2" cy="48.9" rx="1.51" ry="1.26" fill="#5d8ec4" fill-opacity="0.56" transform="rotate(70 203.2 48.9)"/><ellipse cx="289.3" cy="549.4" rx="1.33" ry="0.89" fill="#5d8ec4" fill-opacity="0.62" transform="rotate(53 289.3 549.4)"/><ellipse cx="17.8" cy="409.9" rx="1.38" ry="1.20" fill="#6a9aca" fill-opacity="0.47" transform="rotate(9 17.8 409.9)"/><ellipse cx="995.2" cy="218.7" rx="1.28" ry="0.97" fill="#6a9aca" fill-opacity="0.66" transform="rotate(45 995.2 218.7)"/><ellipse cx="550.6" cy="26.7" rx="2.06" ry="1.65" fill="#7fb0dc" fill-opacity="0.59" transform="rotate(176 550.6 26.7)"/><ellipse cx="864.9" cy="37.6" rx="1.99" ry="1.41" fill="#76a4d0" fill-opacity="0.83" transform="rotate(170 864.9 37.6)"/><ellipse cx="1013.6" cy="406.8" rx="0.97" ry="0.64" fill="#6a9aca" fill-opacity="0.52" transform="rotate(102 1013.6 406.8)"/><ellipse cx="930.4" cy="589.3" rx="0.80" ry="0.57" fill="#94bde6" fill-opacity="0.81" transform="rotate(19 930.4 589.3)"/><ellipse cx="528.4" cy="35.0" rx="1.73" ry="1.25" fill="#94bde6" fill-opacity="0.60" transform="rotate(31 528.4 35.0)"/><ellipse cx="1012.7" cy="348.4" rx="2.02" ry="1.47" fill="#5d8ec4" fill-opacity="0.66" transform="rotate(153 1012.7 348.4)"/><ellipse cx="40.7" cy="31.9" rx="1.19" ry="0.85" fill="#94bde6" fill-opacity="0.75" transform="rotate(95 40.7 31.9)"/><ellipse cx="22.3" cy="491.4" rx="1.29" ry="0.91" fill="#7fb0dc" fill-opacity="0.84" transform="rotate(13 22.3 491.4)"/><ellipse cx="352.8" cy="52.4" rx="1.13" ry="0.78" fill="#5d8ec4" fill-opacity="0.65" transform="rotate(43 352.8 52.4)"/><ellipse cx="457.7" cy="573.7" rx="1.44" ry="1.09" fill="#6a9aca" fill-opacity="0.65" transform="rotate(137 457.7 573.7)"/><ellipse cx="1009.1" cy="342.8" rx="1.33" ry="1.21" fill="#6a9aca" fill-opacity="0.46" transform="rotate(38 1009.1 342.8)"/><ellipse cx="194.9" cy="554.0" rx="1.37" ry="0.89" fill="#7fb0dc" fill-opacity="0.66" transform="rotate(87 194.9 554.0)"/><ellipse cx="32.1" cy="215.8" rx="1.96" ry="1.51" fill="#76a4d0" fill-opacity="0.53" transform="rotate(159 32.1 215.8)"/><ellipse cx="474.5" cy="41.8" rx="1.97" ry="1.38" fill="#76a4d0" fill-opacity="0.80" transform="rotate(128 474.5 41.8)"/><ellipse cx="994.5" cy="459.0" rx="1.40" ry="0.98" fill="#7fb0dc" fill-opacity="0.86" transform="rotate(116 994.5 459.0)"/><ellipse cx="962.9" cy="58.5" rx="1.94" ry="1.43" fill="#5d8ec4" fill-opacity="0.76" transform="rotate(138 962.9 58.5)"/><ellipse cx="32.4" cy="146.3" rx="1.65" ry="1.14" fill="#94bde6" fill-opacity="0.68" transform="rotate(49 32.4 146.3)"/><ellipse cx="684.9" cy="579.1" rx="0.95" ry="0.70" fill="#6a9aca" fill-opacity="0.83" transform="rotate(163 684.9 579.1)"/><ellipse cx="656.5" cy="17.3" rx="1.37" ry="1.00" fill="#6a9aca" fill-opacity="0.43" transform="rotate(96 656.5 17.3)"/><ellipse cx="27.7" cy="573.9" rx="1.04" ry="0.75" fill="#5d8ec4" fill-opacity="0.65" transform="rotate(54 27.7 573.9)"/><ellipse cx="345.5" cy="591.3" rx="0.97" ry="0.65" fill="#94bde6" fill-opacity="0.43" transform="rotate(139 345.5 591.3)"/><ellipse cx="329.5" cy="10.4" rx="1.67" ry="1.52" fill="#5d8ec4" fill-opacity="0.42" transform="rotate(39 329.5 10.4)"/><ellipse cx="306.4" cy="562.6" rx="0.76" ry="0.50" fill="#76a4d0" fill-opacity="0.81" transform="rotate(31 306.4 562.6)"/><ellipse cx="286.2" cy="8.5" rx="1.23" ry="0.95" fill="#6a9aca" fill-opacity="0.61" transform="rotate(140 286.2 8.5)"/><ellipse cx="239.8" cy="30.2" rx="1.41" ry="1.35" fill="#5d8ec4" fill-opacity="0.70" transform="rotate(172 239.8 30.2)"/><ellipse cx="895.6" cy="587.7" rx="1.27" ry="0.88" fill="#94bde6" fill-opacity="0.66" transform="rotate(164 895.6 587.7)"/><ellipse cx="744.3" cy="15.6" rx="2.05" ry="1.31" fill="#6a9aca" fill-opacity="0.69" transform="rotate(68 744.3 15.6)"/><ellipse cx="387.8" cy="575.7" rx="1.24" ry="0.93" fill="#7fb0dc" fill-opacity="0.68" transform="rotate(140 387.8 575.7)"/><ellipse cx="982.6" cy="9.6" rx="2.06" ry="1.29" fill="#6a9aca" fill-opacity="0.46" transform="rotate(152 982.6 9.6)"/><ellipse cx="3.9" cy="170.0" rx="2.33" ry="1.51" fill="#5d8ec4" fill-opacity="0.46" transform="rotate(93 3.9 170.0)"/><ellipse cx="139.9" cy="0.3" rx="1.44" ry="1.13" fill="#5d8ec4" fill-opacity="0.54" transform="rotate(1 139.9 0.3)"/><ellipse cx="235.8" cy="38.4" rx="1.62" ry="1.17" fill="#5d8ec4" fill-opacity="0.46" transform="rotate(73 235.8 38.4)"/><ellipse cx="1013.8" cy="270.8" rx="1.32" ry="0.96" fill="#94bde6" fill-opacity="0.42" transform="rotate(94 1013.8 270.8)"/><ellipse cx="180.4" cy="51.0" rx="2.10" ry="1.87" fill="#76a4d0" fill-opacity="0.59" transform="rotate(172 180.4 51.0)"/><ellipse cx="74.3" cy="567.9" rx="0.87" ry="0.79" fill="#94bde6" fill-opacity="0.47" transform="rotate(65 74.3 567.9)"/><ellipse cx="465.1" cy="570.2" rx="1.00" ry="0.80" fill="#94bde6" fill-opacity="0.82" transform="rotate(178 465.1 570.2)"/><ellipse cx="290.2" cy="30.3" rx="2.06" ry="1.72" fill="#6a9aca" fill-opacity="0.65" transform="rotate(39 290.2 30.3)"/><ellipse cx="998.8" cy="224.9" rx="1.38" ry="1.12" fill="#7fb0dc" fill-opacity="0.79" transform="rotate(117 998.8 224.9)"/><ellipse cx="809.4" cy="33.6" rx="1.74" ry="1.41" fill="#6a9aca" fill-opacity="0.40" transform="rotate(160 809.4 33.6)"/><ellipse cx="337.3" cy="19.7" rx="1.99" ry="1.66" fill="#5d8ec4" fill-opacity="0.63" transform="rotate(145 337.3 19.7)"/><ellipse cx="31.4" cy="160.7" rx="2.44" ry="1.50" fill="#94bde6" fill-opacity="0.73" transform="rotate(67 31.4 160.7)"/><ellipse cx="468.4" cy="22.9" rx="1.54" ry="1.01" fill="#76a4d0" fill-opacity="0.60" transform="rotate(59 468.4 22.9)"/><ellipse cx="618.0" cy="23.1" rx="1.37" ry="1.01" fill="#7fb0dc" fill-opacity="0.76" transform="rotate(113 618.0 23.1)"/><ellipse cx="152.2" cy="595.0" rx="1.48" ry="1.11" fill="#5d8ec4" fill-opacity="0.88" transform="rotate(74 152.2 595.0)"/><ellipse cx="735.9" cy="23.9" rx="1.86" ry="1.37" fill="#6a9aca" fill-opacity="0.57" transform="rotate(74 735.9 23.9)"/><ellipse cx="478.1" cy="16.1" rx="2.41" ry="1.44" fill="#5d8ec4" fill-opacity="0.71" transform="rotate(76 478.1 16.1)"/><ellipse cx="748.4" cy="53.4" rx="1.60" ry="1.22" fill="#5d8ec4" fill-opacity="0.60" transform="rotate(132 748.4 53.4)"/><ellipse cx="200.0" cy="590.2" rx="0.70" ry="0.48" fill="#7fb0dc" fill-opacity="0.65" transform="rotate(36 200.0 590.2)"/><ellipse cx="7.5" cy="589.6" rx="1.29" ry="0.81" fill="#76a4d0" fill-opacity="0.48" transform="rotate(123 7.5 589.6)"/><ellipse cx="516.9" cy="598.8" rx="1.00" ry="0.92" fill="#76a4d0" fill-opacity="0.64" transform="rotate(115 516.9 598.8)"/><ellipse cx="409.0" cy="571.9" rx="1.12" ry="0.96" fill="#76a4d0" fill-opacity="0.60" transform="rotate(166 409.0 571.9)"/><ellipse cx="762.6" cy="13.4" rx="2.11" ry="1.59" fill="#5d8ec4" fill-opacity="0.45" transform="rotate(154 762.6 13.4)"/><ellipse cx="555.0" cy="556.6" rx="1.64" ry="1.20" fill="#7fb0dc" fill-opacity="0.84" transform="rotate(81 555.0 556.6)"/><ellipse cx="963.2" cy="46.8" rx="1.59" ry="1.33" fill="#76a4d0" fill-opacity="0.42" transform="rotate(38 963.2 46.8)"/><ellipse cx="1006.9" cy="447.5" rx="1.25" ry="0.96" fill="#94bde6" fill-opacity="0.69" transform="rotate(45 1006.9 447.5)"/><ellipse cx="652.8" cy="590.4" rx="0.90" ry="0.59" fill="#6a9aca" fill-opacity="0.40" transform="rotate(168 652.8 590.4)"/></g></svg>
</div>
<div id="card"></div>
<div class="hc" style="left:95.9px;width:218.5px"><div class="pct">100%</div><div class="num">714,605</div></div><div class="hc" style="left:314.4px;width:218.5px"><div class="pct">49.6%</div><div class="num">354,635</div></div><div class="hc" style="left:532.9px;width:220.0px"><div class="pct">5.4%</div><div class="num">38,811</div></div><div class="hc last" style="left:752.9px;width:220.4px"><div class="pct">1.2%</div><div class="num">8,732</div></div>
<svg width="1020" height="600" viewBox="0 0 1020 600" id="chart">
<!-- funnels -->
<polygon points="188.7,171.3 314.5,237.5 314.5,390 188.7,390" fill="#ebebeb"/>
<polygon points="407.5,237.5 533.5,374 533.5,390 407.5,390" fill="#ebebeb"/>
<polygon points="626.3,374 753,387 753,390 626.3,390" fill="#ebebeb"/>
<!-- grid -->
<g stroke="#bdbdbd" stroke-width="1" fill="none" shape-rendering="crispEdges">
<g shape-rendering="auto" stroke="#b6b6b6"><line x1="96" y1="232.4" x2="973" y2="232.4"/>
<line x1="96" y1="311.1" x2="973" y2="311.1"/>
<line x1="88" y1="389.8" x2="973" y2="389.8"/></g>
<g shape-rendering="auto" stroke="#c4c4c4" stroke-width="1.1"><line x1="96.4" y1="153" x2="96.4" y2="390"/>
<line x1="314.9" y1="153" x2="314.9" y2="390"/>
<line x1="533.4" y1="153" x2="533.4" y2="390"/>
<line x1="753.4" y1="153" x2="753.4" y2="390"/>
<line x1="972.8" y1="153" x2="972.8" y2="390"/></g>
</g>
<g stroke="#c8c8c8" stroke-width="1" shape-rendering="crispEdges">
<line x1="88" y1="174.5" x2="96" y2="174.5"/><line x1="88" y1="232.5" x2="96" y2="232.5"/><line x1="88" y1="311.5" x2="96" y2="311.5"/>
</g>
<rect x="189" y="237.5" width="125.5" height="1.2" fill="#f6f6f6"/>
<!-- bars -->
<g fill="#5a95ec">
<rect x="96" y="171.3" width="92.7" height="19.2"/>
<rect x="96" y="210" width="92.7" height="180.6"/>
<rect x="314.4" y="237.4" width="93.1" height="153.2"/>
<rect x="533.3" y="374" width="93" height="16.6"/>
<rect x="753.2" y="386.8" width="93" height="3.8"/>
</g>
<rect x="96" y="190.5" width="92.7" height="19.5" fill="#ebebeb"/>
<g stroke="#7d7d7d" stroke-width="1.5" fill="none" stroke-linecap="round" stroke-linejoin="round">
<polyline points="137.75,193.25 141.5,197 134.75,203.75 138.5,207.5"/>
<polyline points="146,193.25 149.75,197 143,203.75 146.75,207.5"/>
</g>
<!-- blue arrows -->
<g stroke="#4c8df0" stroke-width="2.6" fill="none" stroke-linecap="round" stroke-linejoin="round">
<path d="M246,350H259.5M253.2,344.2L259.5,350L253.2,355.8"/>
<path d="M465,350H478.5M472.2,344.2L478.5,350L472.2,355.8"/>
<path d="M683.5,350H697M690.7,344.2L697,350L690.7,355.8"/>
</g>
<!-- red arrows -->
<g stroke="#e3372c" stroke-width="2.4" fill="none" stroke-linecap="round" stroke-linejoin="round">
<path d="M136.4,411V423.5M131.2,418L136.4,423.5L141.6,418"/>
<path d="M356.8,411V423.5M351.6,418L356.8,423.5L362,418"/>
<path d="M578.2,411V423.5M573,418L578.2,423.5L583.4,418"/>
</g>
</svg>
<div class="yl" style="top:168px">714,605</div>
<div class="yl" style="top:226px">354,700</div>
<div class="yl" style="top:305px">177,350</div>
<div class="yl" style="top:384px">0</div>
<div class="cv" style="left:221.7px;top:359.5px">49.6%</div>
<div class="cv" style="left:441px;top:359.5px">10.9%</div>
<div class="cv" style="left:660px;top:359.5px">22.5%</div>
<div class="yb" style="left:97px;width:219px"><div class="rp">50.4%</div><div class="gn">359,970</div></div><div class="yb" style="left:317.5px;width:220.0px"><div class="rp">89.1%</div><div class="gn">315,824</div></div><div class="yb" style="left:539px;width:220px"><div class="rp">77.5%</div><div class="gn">30,079</div></div>
<svg width="1020" height="600" viewBox="0 0 1020 600" id="kotext"><text x="108.1" y="96.2" font-size="10.7" fill="#5e5e5e">방문 시작</text><text x="326.6" y="96.2" font-size="10.7" fill="#5e5e5e">상품 조회</text><text x="545.1" y="96.2" font-size="10.7" fill="#5e5e5e">장바구니 조회</text><text x="765.1" y="96.2" font-size="10.7" fill="#5e5e5e">주문 완료</text><text x="108.8" y="463.4" font-size="10.6" fill="#2a2a2a">상품 조회없이 종료</text><text x="329.3" y="463.4" font-size="10.6" fill="#2a2a2a">장바구니에 담지 않고 종료</text><text x="550.8" y="463.4" font-size="10.6" fill="#2a2a2a">결제하지 않고 종료</text></svg>
<svg width="1020" height="600" viewBox="0 0 1020 600" id="memoji">
<defs>
<radialGradient id="gBulb" cx="880" cy="229" r="25" gradientUnits="userSpaceOnUse">
<stop offset="0" stop-color="#fffef6"/><stop offset="0.45" stop-color="#fff7d6"/><stop offset="0.8" stop-color="#fbe7a6"/><stop offset="1" stop-color="#f3d27e"/>
</radialGradient>
<linearGradient id="gBase" x1="869" y1="0" x2="891" y2="0" gradientUnits="userSpaceOnUse">
<stop offset="0" stop-color="#a3a19c"/><stop offset="0.35" stop-color="#eeece7"/><stop offset="0.7" stop-color="#c9c7c1"/><stop offset="1" stop-color="#8f8d88"/>
</linearGradient>
<radialGradient id="gBunL" cx="812" cy="292" r="42" gradientUnits="userSpaceOnUse">
<stop offset="0" stop-color="#725649"/><stop offset="0.55" stop-color="#5c4338"/><stop offset="1" stop-color="#3d2a22"/>
</radialGradient>
<radialGradient id="gBunR" cx="946" cy="292" r="42" gradientUnits="userSpaceOnUse">
<stop offset="0" stop-color="#725649"/><stop offset="0.55" stop-color="#5c4338"/><stop offset="1" stop-color="#3d2a22"/>
</radialGradient>
<radialGradient id="gHair" cx="880" cy="312" r="100" gradientUnits="userSpaceOnUse">
<stop offset="0" stop-color="#6a5045"/><stop offset="0.5" stop-color="#5d443a"/><stop offset="0.85" stop-color="#4a342b"/><stop offset="1" stop-color="#3d2a22"/>
</radialGradient>
<filter id="fSoft" x="-20%" y="-20%" width="140%" height="140%"><feGaussianBlur stdDeviation="1"/></filter>
<linearGradient id="gEarR" x1="1" y1="0" x2="0" y2="0">
<stop offset="0" stop-color="#eab58f"/><stop offset="1" stop-color="#d2936c"/>
</linearGradient>
<radialGradient id="gFace" cx="880" cy="376" r="88" gradientUnits="userSpaceOnUse">
<stop offset="0" stop-color="#f9d0b1"/><stop offset="0.45" stop-color="#f3c3a1"/><stop offset="0.72" stop-color="#e2aa85"/><stop offset="0.86" stop-color="#cd936d"/><stop offset="1" stop-color="#b97f5b"/>
</radialGradient>
<linearGradient id="gEar" x1="0" y1="0" x2="1" y2="0">
<stop offset="0" stop-color="#eab58f"/><stop offset="1" stop-color="#d2936c"/>
</linearGradient>
<radialGradient id="gIris" cx="0.5" cy="0.5" r="0.5">
<stop offset="0" stop-color="#5a3e2b"/><stop offset="0.6" stop-color="#6a4b33"/><stop offset="0.85" stop-color="#8c6a48"/><stop offset="1" stop-color="#4f3625"/>
</radialGradient>
<linearGradient id="gLap" x1="772" y1="0" x2="988" y2="0" gradientUnits="userSpaceOnUse">
<stop offset="0" stop-color="#a2a3a8"/><stop offset="0.03" stop-color="#b0b1b6"/><stop offset="0.4" stop-color="#bbbcc1"/><stop offset="0.9" stop-color="#b0b1b6"/><stop offset="0.985" stop-color="#a6a7ac"/><stop offset="1" stop-color="#98999e"/>
</linearGradient>
<linearGradient id="gLapV" x1="0" y1="434" x2="0" y2="565" gradientUnits="userSpaceOnUse">
<stop offset="0" stop-color="#ffffff" stop-opacity="0.08"/><stop offset="0.4" stop-color="#ffffff" stop-opacity="0"/><stop offset="0.955" stop-color="#000000" stop-opacity="0.07"/><stop offset="0.975" stop-color="#000000" stop-opacity="0.14"/><stop offset="1" stop-color="#000000" stop-opacity="0.2"/>
</linearGradient>
<clipPath id="clipHead"><rect x="760" y="190" width="260" height="245"/></clipPath>
<linearGradient id="gBrow" x1="0" y1="380" x2="0" y2="391" gradientUnits="userSpaceOnUse"><stop offset="0" stop-color="#7b5f53"/><stop offset="1" stop-color="#5b4338"/></linearGradient>
<radialGradient id="gLens" cx="0.5" cy="0.5" r="0.5"><stop offset="0" stop-color="#fff" stop-opacity="0.10"/><stop offset="0.8" stop-color="#fff" stop-opacity="0.16"/><stop offset="0.95" stop-color="#fff" stop-opacity="0.34"/><stop offset="1" stop-color="#fff" stop-opacity="0.5"/></radialGradient>
<filter id="fBulb" x="-20%" y="-20%" width="140%" height="140%"><feGaussianBlur stdDeviation="2.2"/></filter><filter id="fBulb2" x="-40%" y="-40%" width="180%" height="180%"><feGaussianBlur stdDeviation="4.5"/></filter>
</defs>
<!-- bulb -->
<clipPath id="cBulb"><path d="M880,208.2c-12.6,0-22.7,10.2-22.7,22.7c0,7.6,4,13,7.4,18.3c2.6,4.1,4.6,8.6,5,13.8h20.6c0.4-5.2,2.4-9.700,5-13.800c3.400-5.300,7.400-10.700,7.400-18.300c0-12.500-10.100-22.700-22.700-22.700z"/></clipPath>
<path d="M880,208.2c-12.6,0-22.7,10.2-22.7,22.7c0,7.6,4,13,7.4,18.3c2.6,4.1,4.6,8.6,5,13.8h20.6c0.4-5.2,2.4-9.700,5-13.800c3.400-5.300,7.400-10.700,7.400-18.300c0-12.500-10.100-22.700-22.700-22.700z" fill="#f5d583"/>
<g clip-path="url(#cBulb)">
<path d="M880,211.500c-10.800,0-19.400,8.700-19.400,19.400c0,6.500,3.400,11.200,6.400,15.800c2.600,4.100,4.800,9,5.200,16.300h15.600c0.400-7.300,2.600-12.200,5.200-16.300c3-4.600,6.400-9.300,6.400-15.800c0-10.700-8.600-19.400-19.400-19.400z" fill="#fff3c8" filter="url(#fBulb)"/>
<ellipse cx="880" cy="231" rx="15" ry="16" fill="#ffffff" filter="url(#fBulb2)"/>
</g>
<path d="M869.800,263h20.500v3l-1.2,12.500c-0.100,1-0.900,1.700-1.900,1.700h-14.300c-1,0-1.800-0.700-1.900-1.700l-1.200-12.500z" fill="url(#gBase)"/>
<g stroke="#8a8782" stroke-width="0.8" opacity="0.6"><line x1="870" y1="268" x2="890" y2="267"/><line x1="870.500" y1="272" x2="889.500" y2="271"/><line x1="871" y1="276" x2="889" y2="275"/></g>
<path d="M874,280.200h12c0,2.800-2.800,4.600-6,4.600s-6-1.800-6-4.600z" fill="#4e4d4b"/>
<g clip-path="url(#clipHead)">
<!-- buns -->
<path id="bunL" d="M823,271.500C840,271,852,282,854,296L842,330L803,335.500C792,330,785,318,787,304C790,284,806,271,823,271.500Z" fill="url(#gBunL)"/>
<path d="M937,271.500C920,271,908,282,906,296L918,330L957,335.500C968,330,975,318,973,304C970,284,954,271,937,271.500Z" fill="url(#gBunR)"/>
<g filter="url(#fSoft)" fill="none" stroke-linecap="round">
<path d="M806,284C799,292,797.500,308,804,325" stroke="#33211a" stroke-width="2.200" opacity="0.600"/>
<path d="M830,275.500C828,281,830,286,836,289.500C840,292,844,293,848,292" stroke="#33211a" stroke-width="2" opacity="0.600"/>
<path d="M814,279C808,290,808,306,814,318" stroke="#7a5d50" stroke-width="3" opacity="0.450"/>
<path d="M954,284C961,292,962.500,308,956,325" stroke="#33211a" stroke-width="2.200" opacity="0.600"/>
<path d="M930,275.500C932,281,930,286,924,289.500C920,292,916,293,912,292" stroke="#33211a" stroke-width="2" opacity="0.600"/>
<path d="M946,279C952,290,952,306,946,318" stroke="#7a5d50" stroke-width="3" opacity="0.450"/>
</g>
<!-- ears -->
<ellipse cx="800.300" cy="420" rx="8.500" ry="17.500" fill="url(#gEar)"/>
<ellipse cx="959.700" cy="420" rx="8.500" ry="17.500" fill="url(#gEarR)"/>
<path d="M797,410c2-3,6-3,8,0c1.500,3,1,10-1,16" stroke="#c98b66" stroke-width="1.400" fill="none" opacity="0.700"/>
<path d="M963,410c-2-3-6-3-8,0c-1.500,3-1,10,1,16" stroke="#c98b66" stroke-width="1.400" fill="none" opacity="0.700"/>
<!-- hair main -->
<path d="M880,297.500C874,294,864,293.500,856,294C846,295,836,299.500,829.500,305.500C821,312,814.500,318.500,810,325C805.500,331.500,803,337,801,343C798.500,350,796.500,358,796.500,368C796.500,382,799,396,805.500,408L816,398L816,380C816,360,822,345,838,339.500L922,339.500C938,345,944,360,944,380L944,398L954.500,408C961,396,963.500,382,963.500,368C963.500,358,961.500,350,959,343C957,337,954.500,331.500,950,325C945.500,318.500,939,312,930.500,305.500C924,299.500,914,295,904,294C896,293.500,886,294,880,297.500Z" fill="url(#gHair)"/>
<!-- face -->
<path d="M803,440C803,425,805,405,808,388C810,372,815,356,826,346.500C834,340,845,337.500,858,337L902,337C915,337.500,926,340,934,346.500C945,356,950,372,952,388C955,405,957,425,957,440Z" fill="url(#gFace)"/>
<!-- hair shading -->
<g filter="url(#fSoft)" fill="none" stroke-linecap="round">
<path d="M832,300C846,296,864,296,876,299" stroke="#7b5f52" stroke-width="5" opacity="0.500"/>
<path d="M884,299C896,296,914,296,928,300" stroke="#7b5f52" stroke-width="5" opacity="0.500"/>
<path d="M880,297.500C879,310,879.500,324,880.500,336.500" stroke="#2e1d17" stroke-width="2.600" opacity="0.650"/>
<path d="M832,305C829,314,828.500,326,830,338.500" stroke="#2e1d17" stroke-width="2.200" opacity="0.650"/>
<path d="M814,317.500C811,328,812,342,817,354" stroke="#2e1d17" stroke-width="2.200" opacity="0.650"/>
<path d="M804.500,331C800.500,342,801,356,805,368" stroke="#2e1d17" stroke-width="2.200" opacity="0.600"/>
<path d="M799,352C797.500,364,799,378,803,388" stroke="#2e1d17" stroke-width="2" opacity="0.500"/>
<path d="M928,305C931,314,931.500,326,930,338.500" stroke="#2e1d17" stroke-width="2.200" opacity="0.650"/>
<path d="M946,317.500C949,328,948,342,943,354" stroke="#2e1d17" stroke-width="2.200" opacity="0.650"/>
<path d="M955.500,331C959.500,342,959,356,955,368" stroke="#2e1d17" stroke-width="2.200" opacity="0.600"/>
<path d="M961,352C962.500,364,961,378,957,388" stroke="#2e1d17" stroke-width="2" opacity="0.500"/>
<path d="M838,338C850,335.500,866,335,880.500,335.500C895,335,910,335.500,922,338" stroke="#3a261e" stroke-width="2.400" opacity="0.550"/>
</g>
<!-- brows -->
<path d="M825,391C827.500,386,832,382.500,837.500,381.200C841,380.400,845,380.800,848.500,382.200C853,384,857,386.500,859.600,389.600C855,389,850,388.900,845,389C838,389.200,831,390,825,391Z" fill="url(#gBrow)"/>
<path d="M935,391C932.500,386,928,382.500,922.500,381.200C919,380.400,915,380.800,911.500,382.200C907,384,903,386.500,900.400,389.600C905,389,910,388.900,915,389C922,389.200,929,390,935,391Z" fill="url(#gBrow)"/>
<!-- eyes -->
<g>
<path d="M819,410C825,405,833,403,842,403C851,403,858,408,862.800,417.500C858,422.500,852,425.300,844.500,425.300C834,425.300,825,419,819,410Z" fill="#ececec"/>
<clipPath id="cEyeL"><path d="M819,410C825,405,833,403,842,403C851,403,858,408,862.800,417.500C858,422.500,852,425.300,844.500,425.300C834,425.300,825,419,819,410Z"/></clipPath>
<g clip-path="url(#cEyeL)"><circle cx="844.300" cy="414.800" r="12.300" fill="url(#gIris)"/><circle cx="844.300" cy="415.200" r="7.400" fill="#1d1512"/><path d="M817,402h48v7c-14-5-32-5-48,1z" fill="#000" opacity="0.280"/></g>
<circle cx="839.200" cy="408.500" r="2.600" fill="#fff"/>
<path d="M816.500,408.500C819,410,821,410.600,823,410.300C828,404.500,835,402,842.500,402C851,402,858.500,407,863,417" stroke="#1b1412" stroke-width="3" fill="none" stroke-linecap="round"/>
<path d="M817.500,409.300L822,411.500L826,407Z" fill="#1b1412"/>
<path d="M821,405.500l-3.500-2.500M824,403.500l-3-3M827.500,402l-2-3" stroke="#2a1e1a" stroke-width="1" stroke-linecap="round" opacity="0.800"/>
</g>
<g>
<path d="M941,410C935,405,927,403,918,403C909,403,902,408,897.200,417.500C902,422.500,908,425.300,915.500,425.300C926,425.300,935,419,941,410Z" fill="#ececec"/>
<clipPath id="cEyeR"><path d="M941,410C935,405,927,403,918,403C909,403,902,408,897.200,417.500C902,422.500,908,425.300,915.500,425.300C926,425.300,935,419,941,410Z"/></clipPath>
<g clip-path="url(#cEyeR)"><circle cx="916.400" cy="414.800" r="12.300" fill="url(#gIris)"/><circle cx="916.400" cy="415.200" r="7.400" fill="#1d1512"/><path d="M895,402h48v8c-16-6-34-6-48-1z" fill="#000" opacity="0.280"/></g>
<circle cx="911" cy="408.600" r="2.600" fill="#fff"/>
<path d="M943.500,408.500C941,410,939,410.600,937,410.300C932,404.500,925,402,917.500,402C909,402,901.500,407,897,417" stroke="#1b1412" stroke-width="3" fill="none" stroke-linecap="round"/>
<path d="M942.500,409.300L938,411.500L934,407Z" fill="#1b1412"/>
<path d="M939,405.500l3.500-2.500M936,403.500l3-3M932.500,402l2-3" stroke="#2a1e1a" stroke-width="1" stroke-linecap="round" opacity="0.800"/>
</g>
<!-- nose shading + freckles -->
<ellipse cx="880" cy="428" rx="11" ry="9" fill="#e9ad88" opacity="0.550" filter="url(#fSoft)"/>
<g fill="#b9774f" opacity="0.850"><circle cx="871" cy="418.500" r="0.800"/><circle cx="874.500" cy="422" r="0.800"/><circle cx="869.500" cy="427.500" r="0.900"/><circle cx="877.500" cy="427" r="1"/><circle cx="880.500" cy="419.500" r="0.800"/><circle cx="884.500" cy="424" r="0.900"/><circle cx="888.500" cy="419.500" r="0.800"/><circle cx="888" cy="429.500" r="0.900"/><circle cx="893" cy="424.500" r="0.800"/><circle cx="883" cy="430" r="0.800"/><circle cx="896" cy="430" r="0.800"/><circle cx="866" cy="423" r="0.700"/></g>
<!-- glasses -->
<circle cx="837.800" cy="415.800" r="26.700" fill="url(#gLens)" stroke="#ffffff" stroke-opacity="0.600" stroke-width="1.200"/>
<circle cx="921.900" cy="415.800" r="26.700" fill="url(#gLens)" stroke="#ffffff" stroke-opacity="0.600" stroke-width="1.200"/>
<path d="M865.600,415.500C869,412.500,873,409.800,877.300,409.200C880,408.800,883,408.800,885.500,409.300C889,410.200,891.500,413,893.700,415.500" stroke="#eeecea" stroke-width="2" fill="none" stroke-linecap="round"/>
</g>
<!-- laptop -->
<g transform="translate(0,-1)">
<path d="M777.500,434.500h205c3,0,5.500,2.500,5.400,5.500l-4.700,119c-0.100,3.200-2.700,5.700-5.900,5.700h-193.600c-3.200,0-5.800-2.500-5.900-5.700l-5.700-119c-0.100-3,2.400-5.500,5.400-5.500z" fill="url(#gLap)"/>
<path d="M777.500,434.500h205c3,0,5.500,2.500,5.400,5.500l-4.700,119c-0.100,3.200-2.700,5.700-5.900,5.700h-193.600c-3.200,0-5.800-2.500-5.900-5.700l-5.700-119c-0.100-3,2.400-5.500,5.400-5.500z" fill="url(#gLapV)"/>
<path d="M773,436.500c1-1.300,2.700-2,4.500-2h205c1.800,0,3.500,0.700,4.500,2" stroke="#d6d7db" stroke-width="1.200" fill="none"/>
</g>
<!-- apple -->
<g fill="#d9dadd" transform="translate(880,498.7) scale(0.86) translate(-879.2,-502.4)">
<path d="M886.500,483.500c0.300,2.300-0.600,4.500-2,6c-1.400,1.600-3.600,2.800-5.600,2.600c-0.400-2.200,0.700-4.500,2-5.900c1.400-1.600,3.800-2.700,5.600-2.700z"/>
<path d="M892.500,497.800c-2.800,1.700-4.300,4-4.300,7.200c0,3.600,2,6.200,5,7.500c-0.800,2.400-1.900,4.400-3.300,6.300c-1.600,2.100-3.200,4.200-5.700,4.200c-2.400,0-3.100-1.400-5.900-1.400c-2.800,0-3.600,1.400-5.900,1.500c-2.400,0.100-4.200-2.300-5.800-4.500c-3.200-4.400-5.600-12.300-2.300-17.800c1.600-2.700,4.500-4.400,7.600-4.500c2.400,0,4.600,1.500,6,1.500c1.400,0,4.100-1.900,7-1.600c1.200,0,4.600,0.400,6.800,3.400z" transform="translate(1.500,-2)"/>
</g>
</svg>

</body></html>
